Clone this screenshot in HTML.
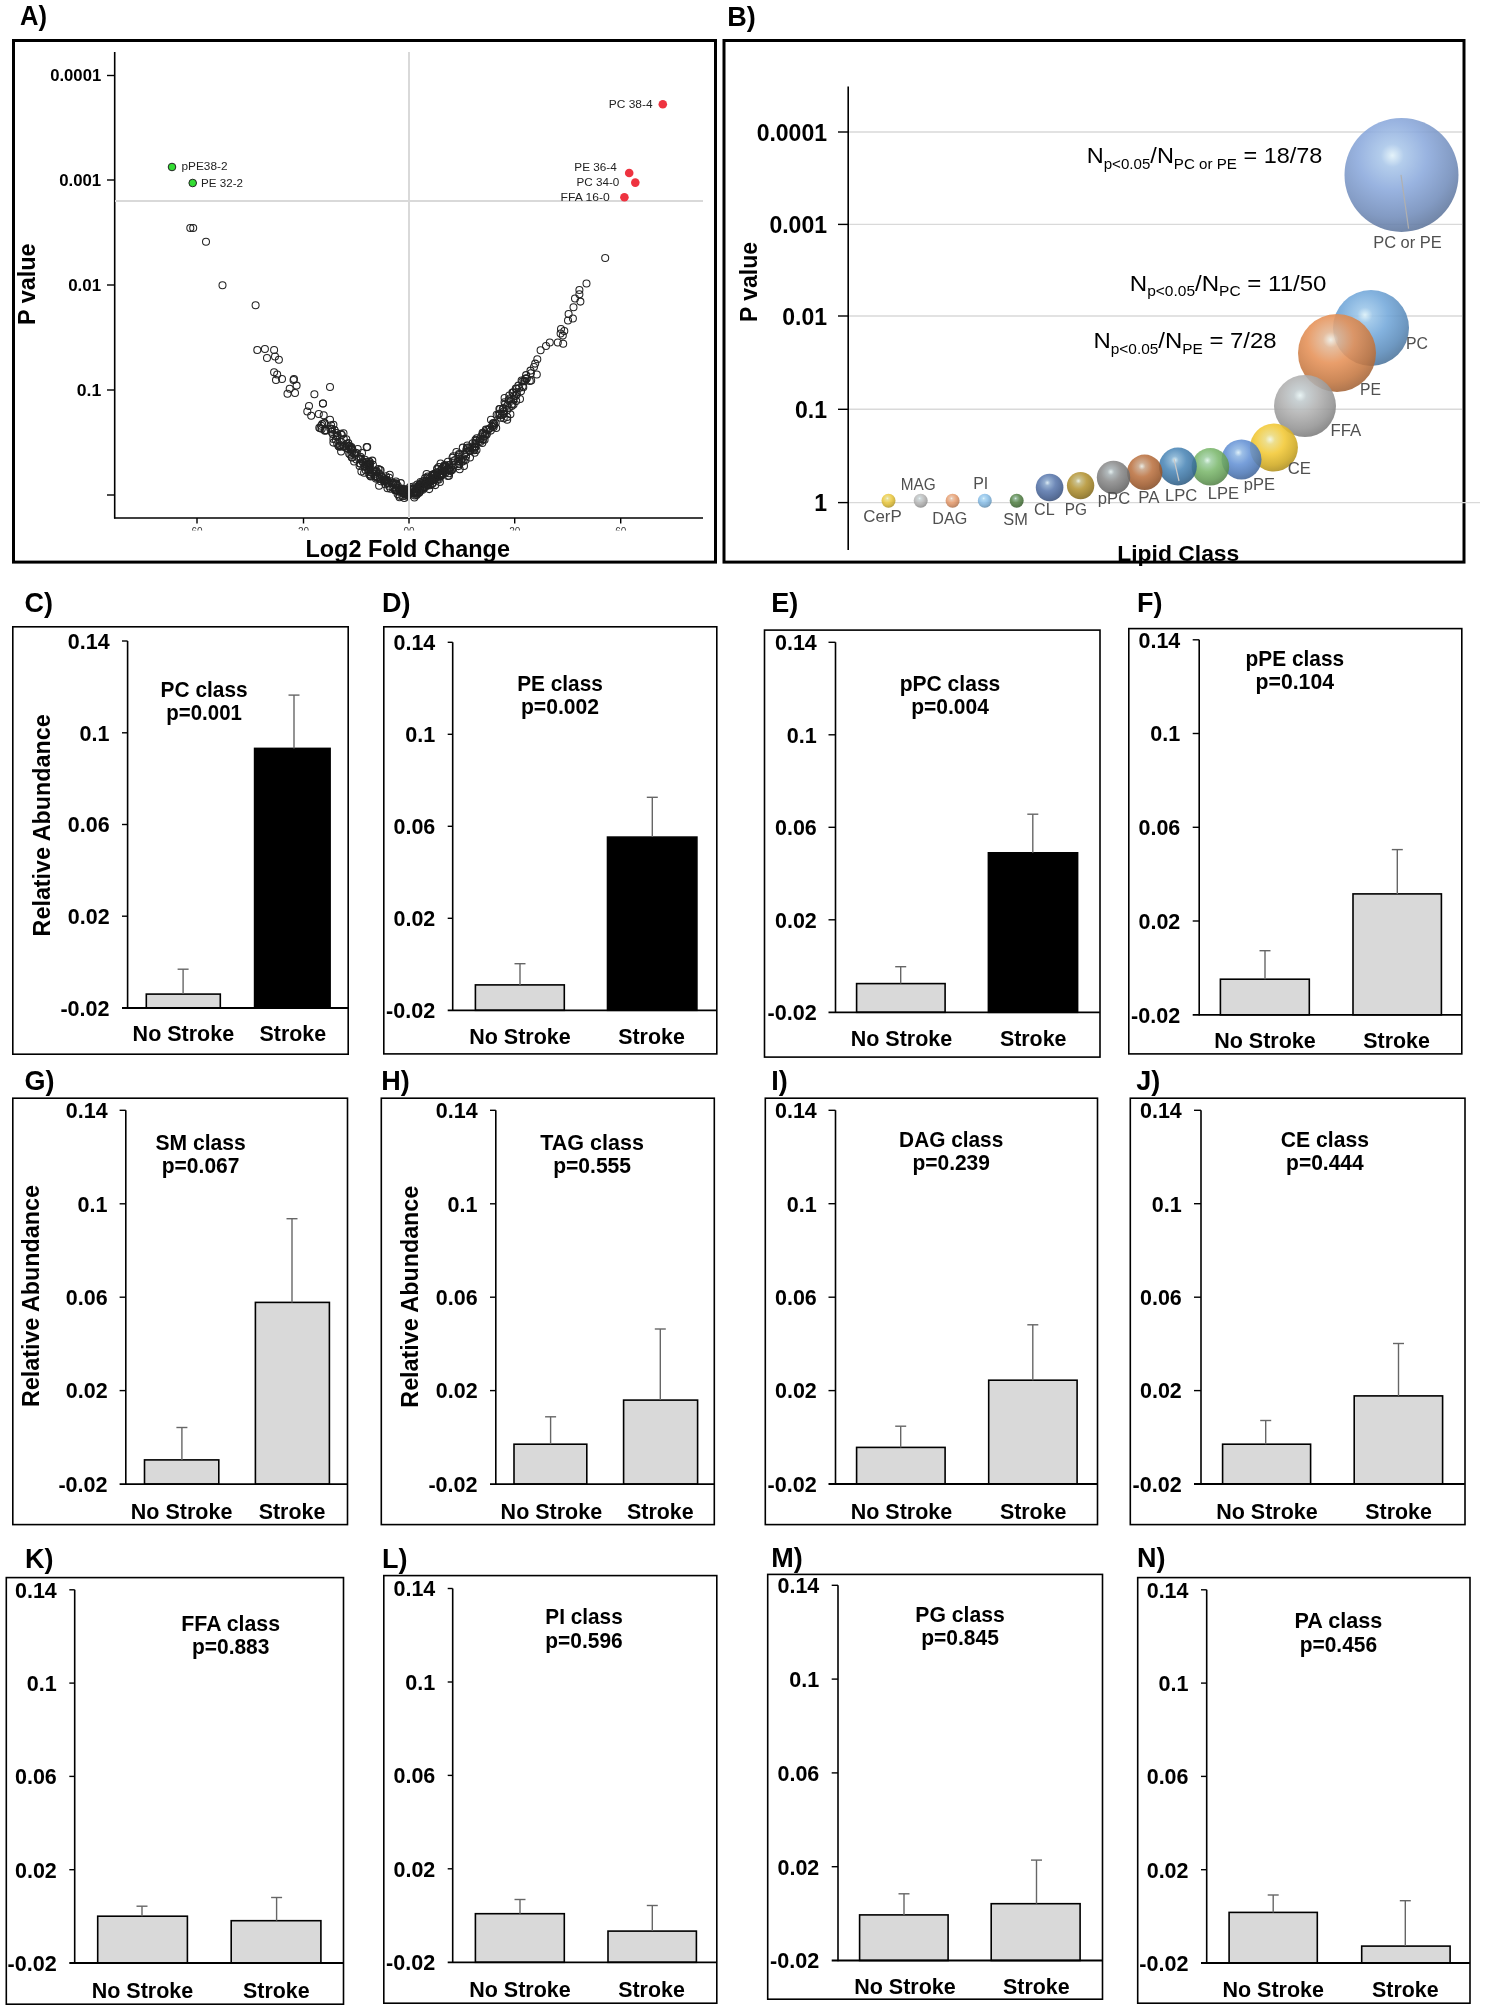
<!DOCTYPE html>
<html><head><meta charset="utf-8"><style>
html,body{margin:0;padding:0;background:#fff;overflow:hidden;}
svg{display:block;font-family:'Liberation Sans', sans-serif;will-change:transform;}
</style></head><body>
<svg width="1485" height="2010" viewBox="0 0 1485 2010">
<rect width="1485" height="2010" fill="#fff"/>
<text x="20.0" y="25.2" font-size="28" font-weight="bold" text-anchor="start" fill="#000" textLength="27" lengthAdjust="spacingAndGlyphs" >A)</text>
<rect x="13.5" y="40.5" width="702.0" height="521.6" fill="none" stroke="#000" stroke-width="3"/>
<line x1="114.7" y1="52.0" x2="114.7" y2="518.5" stroke="#000" stroke-width="1.6"/>
<line x1="114.0" y1="518.0" x2="703.0" y2="518.0" stroke="#000" stroke-width="1.6"/>
<line x1="107.0" y1="75.5" x2="115.0" y2="75.5" stroke="#000" stroke-width="1.4"/>
<text x="101.2" y="81.1" font-size="17.2" font-weight="bold" text-anchor="end" fill="#000" textLength="51" lengthAdjust="spacingAndGlyphs" >0.0001</text>
<line x1="107.0" y1="180.0" x2="115.0" y2="180.0" stroke="#000" stroke-width="1.4"/>
<text x="101.2" y="185.6" font-size="17.2" font-weight="bold" text-anchor="end" fill="#000" textLength="42" lengthAdjust="spacingAndGlyphs" >0.001</text>
<line x1="107.0" y1="285.0" x2="115.0" y2="285.0" stroke="#000" stroke-width="1.4"/>
<text x="101.2" y="290.6" font-size="17.2" font-weight="bold" text-anchor="end" fill="#000" textLength="33" lengthAdjust="spacingAndGlyphs" >0.01</text>
<line x1="107.0" y1="390.0" x2="115.0" y2="390.0" stroke="#000" stroke-width="1.4"/>
<text x="101.2" y="395.6" font-size="17.2" font-weight="bold" text-anchor="end" fill="#000" textLength="24.5" lengthAdjust="spacingAndGlyphs" >0.1</text>
<line x1="107.0" y1="495.0" x2="115.0" y2="495.0" stroke="#000" stroke-width="1.4"/>
<line x1="197.0" y1="518.0" x2="197.0" y2="523.5" stroke="#000" stroke-width="1.4"/>
<line x1="303.5" y1="518.0" x2="303.5" y2="523.5" stroke="#000" stroke-width="1.4"/>
<line x1="409.0" y1="518.0" x2="409.0" y2="523.5" stroke="#000" stroke-width="1.4"/>
<line x1="514.7" y1="518.0" x2="514.7" y2="523.5" stroke="#000" stroke-width="1.4"/>
<line x1="620.7" y1="518.0" x2="620.7" y2="523.5" stroke="#000" stroke-width="1.4"/>
<clipPath id="tkclip"><rect x="100" y="524" width="620" height="6.5"/></clipPath>
<g clip-path="url(#tkclip)">
<text x="197.0" y="535.0" font-size="10" font-weight="normal" text-anchor="middle" fill="#333" >60</text>
<text x="303.5" y="535.0" font-size="10" font-weight="normal" text-anchor="middle" fill="#333" >20</text>
<text x="409.0" y="535.0" font-size="10" font-weight="normal" text-anchor="middle" fill="#333" >00</text>
<text x="514.7" y="535.0" font-size="10" font-weight="normal" text-anchor="middle" fill="#333" >20</text>
<text x="620.7" y="535.0" font-size="10" font-weight="normal" text-anchor="middle" fill="#333" >60</text>
</g>
<text x="34.7" y="284.3" font-size="23.4" font-weight="bold" text-anchor="middle" fill="#000" textLength="81.5" lengthAdjust="spacingAndGlyphs" transform="rotate(-90 34.7 284.3)">P value</text>
<text x="407.7" y="556.5" font-size="23.5" font-weight="bold" text-anchor="middle" fill="#000" textLength="204.5" lengthAdjust="spacingAndGlyphs" >Log2 Fold Change</text>
<g fill="none" stroke="#222" stroke-width="1.05">
<circle cx="190.3" cy="227.9" r="3.5"/>
<circle cx="193.2" cy="227.9" r="3.5"/>
<circle cx="206.0" cy="241.7" r="3.5"/>
<circle cx="222.5" cy="285.3" r="3.5"/>
<circle cx="255.6" cy="305.2" r="3.5"/>
<circle cx="257.3" cy="350.0" r="3.5"/>
<circle cx="264.9" cy="349.0" r="3.5"/>
<circle cx="274.1" cy="350.0" r="3.5"/>
<circle cx="267.0" cy="358.0" r="3.5"/>
<circle cx="275.0" cy="356.5" r="3.5"/>
<circle cx="278.9" cy="359.7" r="3.5"/>
<circle cx="274.1" cy="372.2" r="3.5"/>
<circle cx="277.2" cy="374.4" r="3.5"/>
<circle cx="276.0" cy="380.0" r="3.5"/>
<circle cx="282.0" cy="379.0" r="3.5"/>
<circle cx="293.5" cy="380.0" r="3.5"/>
<circle cx="294.0" cy="379.0" r="3.5"/>
<circle cx="296.6" cy="385.6" r="3.5"/>
<circle cx="289.7" cy="388.8" r="3.5"/>
<circle cx="287.5" cy="393.8" r="3.5"/>
<circle cx="295.0" cy="393.0" r="3.5"/>
<circle cx="330.0" cy="387.0" r="3.5"/>
<circle cx="314.4" cy="394.2" r="3.5"/>
<circle cx="309.0" cy="406.0" r="3.5"/>
<circle cx="307.3" cy="411.5" r="3.5"/>
<circle cx="311.2" cy="415.8" r="3.5"/>
<circle cx="323.0" cy="403.5" r="3.5"/>
<circle cx="318.8" cy="414.0" r="3.5"/>
<circle cx="323.7" cy="415.3" r="3.5"/>
<circle cx="330.0" cy="419.7" r="3.5"/>
<circle cx="367.2" cy="447.0" r="3.5"/>
<circle cx="322.9" cy="403.4" r="3.5"/>
<circle cx="366.7" cy="447.1" r="3.5"/>
<circle cx="605.2" cy="258.0" r="3.5"/>
<circle cx="586.5" cy="283.4" r="3.5"/>
<circle cx="579.4" cy="290.0" r="3.5"/>
<circle cx="579.4" cy="294.2" r="3.5"/>
<circle cx="575.0" cy="298.5" r="3.5"/>
<circle cx="580.4" cy="301.6" r="3.5"/>
<circle cx="573.5" cy="307.2" r="3.5"/>
<circle cx="568.6" cy="314.0" r="3.5"/>
<circle cx="572.9" cy="318.4" r="3.5"/>
<circle cx="568.0" cy="320.5" r="3.5"/>
<circle cx="561.0" cy="329.0" r="3.5"/>
<circle cx="564.3" cy="331.0" r="3.5"/>
<circle cx="560.6" cy="333.4" r="3.5"/>
<circle cx="562.8" cy="335.6" r="3.5"/>
<circle cx="557.8" cy="342.5" r="3.5"/>
<circle cx="563.2" cy="343.8" r="3.5"/>
<circle cx="549.8" cy="342.5" r="3.5"/>
<circle cx="546.0" cy="346.0" r="3.5"/>
<circle cx="540.6" cy="350.3" r="3.5"/>
<circle cx="537.3" cy="359.3" r="3.5"/>
<circle cx="535.2" cy="363.6" r="3.5"/>
<circle cx="534.0" cy="366.9" r="3.5"/>
<circle cx="530.9" cy="373.3" r="3.5"/>
<circle cx="526.6" cy="378.7" r="3.5"/>
<circle cx="529.8" cy="380.9" r="3.5"/>
<circle cx="523.3" cy="387.3" r="3.5"/>
<circle cx="515.8" cy="388.4" r="3.5"/>
<circle cx="509.3" cy="395.5" r="3.5"/>
<circle cx="504.6" cy="398.0" r="3.5"/>
<circle cx="520.0" cy="399.0" r="3.5"/>
<circle cx="513.6" cy="404.6" r="3.5"/>
<circle cx="502.8" cy="408.9" r="3.5"/>
<circle cx="510.4" cy="414.3" r="3.5"/>
<circle cx="507.2" cy="419.7" r="3.5"/>
<circle cx="491.0" cy="419.7" r="3.5"/>
<circle cx="489.9" cy="428.3" r="3.5"/>
<circle cx="483.4" cy="439.0" r="3.5"/>
<circle cx="474.8" cy="447.7" r="3.5"/>
<circle cx="467.3" cy="445.5" r="3.5"/>
<circle cx="453.3" cy="456.3" r="3.5"/>
<circle cx="459.7" cy="469.2" r="3.5"/>
<circle cx="464.0" cy="466.0" r="3.5"/>
<circle cx="444.7" cy="465.0" r="3.5"/>
<circle cx="449.0" cy="475.7" r="3.5"/>
<circle cx="433.9" cy="475.7" r="3.5"/>
<circle cx="324.8" cy="430.8" r="3.5"/>
<circle cx="322.2" cy="424.1" r="3.5"/>
<circle cx="321.2" cy="425.7" r="3.5"/>
<circle cx="326.1" cy="430.5" r="3.5"/>
<circle cx="325.6" cy="430.0" r="3.5"/>
<circle cx="324.0" cy="423.3" r="3.5"/>
<circle cx="333.4" cy="424.8" r="3.5"/>
<circle cx="319.3" cy="427.8" r="3.5"/>
<circle cx="321.8" cy="428.8" r="3.5"/>
<circle cx="332.7" cy="434.0" r="3.5"/>
<circle cx="331.7" cy="428.8" r="3.5"/>
<circle cx="320.3" cy="428.2" r="3.5"/>
<circle cx="331.7" cy="429.4" r="3.5"/>
<circle cx="330.2" cy="428.5" r="3.5"/>
<circle cx="331.5" cy="431.7" r="3.5"/>
<circle cx="331.1" cy="425.3" r="3.5"/>
<circle cx="334.6" cy="430.1" r="3.5"/>
<circle cx="324.7" cy="423.1" r="3.5"/>
<circle cx="337.5" cy="435.2" r="3.5"/>
<circle cx="341.4" cy="442.3" r="3.5"/>
<circle cx="348.3" cy="443.1" r="3.5"/>
<circle cx="343.8" cy="438.9" r="3.5"/>
<circle cx="342.3" cy="446.5" r="3.5"/>
<circle cx="340.3" cy="445.2" r="3.5"/>
<circle cx="338.5" cy="446.0" r="3.5"/>
<circle cx="341.9" cy="434.9" r="3.5"/>
<circle cx="336.7" cy="432.9" r="3.5"/>
<circle cx="333.4" cy="439.0" r="3.5"/>
<circle cx="337.5" cy="435.6" r="3.5"/>
<circle cx="343.8" cy="446.6" r="3.5"/>
<circle cx="337.2" cy="443.7" r="3.5"/>
<circle cx="346.8" cy="444.0" r="3.5"/>
<circle cx="333.4" cy="442.6" r="3.5"/>
<circle cx="336.7" cy="436.5" r="3.5"/>
<circle cx="340.9" cy="433.8" r="3.5"/>
<circle cx="335.8" cy="439.5" r="3.5"/>
<circle cx="343.5" cy="433.3" r="3.5"/>
<circle cx="346.3" cy="439.2" r="3.5"/>
<circle cx="339.3" cy="446.7" r="3.5"/>
<circle cx="340.2" cy="446.2" r="3.5"/>
<circle cx="351.7" cy="448.6" r="3.5"/>
<circle cx="352.0" cy="452.5" r="3.5"/>
<circle cx="348.5" cy="449.0" r="3.5"/>
<circle cx="346.1" cy="447.9" r="3.5"/>
<circle cx="348.4" cy="446.6" r="3.5"/>
<circle cx="355.5" cy="452.8" r="3.5"/>
<circle cx="351.4" cy="447.0" r="3.5"/>
<circle cx="341.1" cy="451.5" r="3.5"/>
<circle cx="352.3" cy="449.2" r="3.5"/>
<circle cx="349.6" cy="445.9" r="3.5"/>
<circle cx="354.4" cy="453.7" r="3.5"/>
<circle cx="356.8" cy="453.2" r="3.5"/>
<circle cx="349.2" cy="453.8" r="3.5"/>
<circle cx="352.2" cy="457.2" r="3.5"/>
<circle cx="350.8" cy="447.4" r="3.5"/>
<circle cx="357.7" cy="448.9" r="3.5"/>
<circle cx="351.0" cy="449.7" r="3.5"/>
<circle cx="351.8" cy="457.5" r="3.5"/>
<circle cx="353.8" cy="453.3" r="3.5"/>
<circle cx="352.2" cy="450.3" r="3.5"/>
<circle cx="348.4" cy="445.9" r="3.5"/>
<circle cx="350.4" cy="454.8" r="3.5"/>
<circle cx="361.4" cy="471.5" r="3.5"/>
<circle cx="360.8" cy="459.3" r="3.5"/>
<circle cx="358.8" cy="458.2" r="3.5"/>
<circle cx="364.4" cy="466.4" r="3.5"/>
<circle cx="363.1" cy="462.5" r="3.5"/>
<circle cx="359.6" cy="466.0" r="3.5"/>
<circle cx="366.5" cy="461.7" r="3.5"/>
<circle cx="369.1" cy="461.4" r="3.5"/>
<circle cx="370.1" cy="463.7" r="3.5"/>
<circle cx="367.0" cy="465.2" r="3.5"/>
<circle cx="356.4" cy="459.6" r="3.5"/>
<circle cx="364.6" cy="466.7" r="3.5"/>
<circle cx="368.2" cy="464.5" r="3.5"/>
<circle cx="362.4" cy="461.3" r="3.5"/>
<circle cx="368.3" cy="463.9" r="3.5"/>
<circle cx="372.3" cy="460.6" r="3.5"/>
<circle cx="366.2" cy="464.6" r="3.5"/>
<circle cx="360.7" cy="458.4" r="3.5"/>
<circle cx="360.4" cy="456.7" r="3.5"/>
<circle cx="369.3" cy="463.3" r="3.5"/>
<circle cx="360.4" cy="463.6" r="3.5"/>
<circle cx="369.8" cy="462.0" r="3.5"/>
<circle cx="360.0" cy="463.4" r="3.5"/>
<circle cx="354.1" cy="461.5" r="3.5"/>
<circle cx="362.0" cy="452.9" r="3.5"/>
<circle cx="365.0" cy="459.7" r="3.5"/>
<circle cx="374.5" cy="471.8" r="3.5"/>
<circle cx="376.1" cy="471.6" r="3.5"/>
<circle cx="380.6" cy="470.3" r="3.5"/>
<circle cx="375.4" cy="476.1" r="3.5"/>
<circle cx="378.4" cy="468.9" r="3.5"/>
<circle cx="379.8" cy="469.7" r="3.5"/>
<circle cx="370.7" cy="474.7" r="3.5"/>
<circle cx="377.6" cy="476.7" r="3.5"/>
<circle cx="370.9" cy="476.4" r="3.5"/>
<circle cx="368.9" cy="469.5" r="3.5"/>
<circle cx="369.3" cy="466.8" r="3.5"/>
<circle cx="373.7" cy="473.9" r="3.5"/>
<circle cx="369.2" cy="466.7" r="3.5"/>
<circle cx="364.1" cy="472.7" r="3.5"/>
<circle cx="368.6" cy="470.8" r="3.5"/>
<circle cx="370.3" cy="476.0" r="3.5"/>
<circle cx="372.9" cy="464.7" r="3.5"/>
<circle cx="372.6" cy="470.2" r="3.5"/>
<circle cx="374.9" cy="476.6" r="3.5"/>
<circle cx="372.0" cy="472.8" r="3.5"/>
<circle cx="376.8" cy="471.3" r="3.5"/>
<circle cx="376.9" cy="477.6" r="3.5"/>
<circle cx="369.7" cy="467.0" r="3.5"/>
<circle cx="378.8" cy="473.6" r="3.5"/>
<circle cx="369.3" cy="474.5" r="3.5"/>
<circle cx="370.4" cy="472.2" r="3.5"/>
<circle cx="375.3" cy="471.3" r="3.5"/>
<circle cx="368.6" cy="465.5" r="3.5"/>
<circle cx="365.7" cy="470.3" r="3.5"/>
<circle cx="375.9" cy="478.6" r="3.5"/>
<circle cx="379.7" cy="478.6" r="3.5"/>
<circle cx="389.7" cy="474.7" r="3.5"/>
<circle cx="384.2" cy="481.3" r="3.5"/>
<circle cx="384.0" cy="480.0" r="3.5"/>
<circle cx="382.1" cy="477.2" r="3.5"/>
<circle cx="384.7" cy="479.8" r="3.5"/>
<circle cx="388.5" cy="483.0" r="3.5"/>
<circle cx="381.4" cy="476.2" r="3.5"/>
<circle cx="393.0" cy="483.3" r="3.5"/>
<circle cx="387.1" cy="482.8" r="3.5"/>
<circle cx="395.9" cy="483.2" r="3.5"/>
<circle cx="396.1" cy="483.7" r="3.5"/>
<circle cx="389.4" cy="486.5" r="3.5"/>
<circle cx="392.9" cy="485.0" r="3.5"/>
<circle cx="387.7" cy="480.4" r="3.5"/>
<circle cx="380.7" cy="481.3" r="3.5"/>
<circle cx="384.8" cy="479.6" r="3.5"/>
<circle cx="390.5" cy="488.7" r="3.5"/>
<circle cx="386.0" cy="479.5" r="3.5"/>
<circle cx="387.6" cy="483.0" r="3.5"/>
<circle cx="379.1" cy="485.7" r="3.5"/>
<circle cx="391.6" cy="482.8" r="3.5"/>
<circle cx="385.7" cy="479.6" r="3.5"/>
<circle cx="389.2" cy="477.7" r="3.5"/>
<circle cx="384.2" cy="478.2" r="3.5"/>
<circle cx="383.8" cy="481.3" r="3.5"/>
<circle cx="380.1" cy="478.6" r="3.5"/>
<circle cx="386.0" cy="476.2" r="3.5"/>
<circle cx="392.7" cy="482.8" r="3.5"/>
<circle cx="396.1" cy="484.8" r="3.5"/>
<circle cx="395.2" cy="490.2" r="3.5"/>
<circle cx="387.5" cy="488.3" r="3.5"/>
<circle cx="395.5" cy="483.9" r="3.5"/>
<circle cx="392.6" cy="487.7" r="3.5"/>
<circle cx="385.2" cy="484.3" r="3.5"/>
<circle cx="396.0" cy="481.4" r="3.5"/>
<circle cx="403.9" cy="492.2" r="3.5"/>
<circle cx="396.2" cy="489.8" r="3.5"/>
<circle cx="395.2" cy="490.3" r="3.5"/>
<circle cx="404.0" cy="489.8" r="3.5"/>
<circle cx="399.4" cy="495.7" r="3.5"/>
<circle cx="406.7" cy="490.2" r="3.5"/>
<circle cx="402.5" cy="496.2" r="3.5"/>
<circle cx="398.4" cy="491.5" r="3.5"/>
<circle cx="405.7" cy="494.2" r="3.5"/>
<circle cx="409.1" cy="492.5" r="3.5"/>
<circle cx="401.2" cy="489.7" r="3.5"/>
<circle cx="403.4" cy="491.7" r="3.5"/>
<circle cx="399.5" cy="488.9" r="3.5"/>
<circle cx="399.8" cy="489.8" r="3.5"/>
<circle cx="398.5" cy="488.0" r="3.5"/>
<circle cx="404.1" cy="491.9" r="3.5"/>
<circle cx="404.0" cy="489.0" r="3.5"/>
<circle cx="396.3" cy="490.1" r="3.5"/>
<circle cx="407.4" cy="495.3" r="3.5"/>
<circle cx="397.6" cy="493.9" r="3.5"/>
<circle cx="402.2" cy="491.0" r="3.5"/>
<circle cx="408.2" cy="495.4" r="3.5"/>
<circle cx="400.8" cy="483.1" r="3.5"/>
<circle cx="395.8" cy="490.2" r="3.5"/>
<circle cx="406.2" cy="493.7" r="3.5"/>
<circle cx="407.1" cy="493.7" r="3.5"/>
<circle cx="397.6" cy="485.4" r="3.5"/>
<circle cx="399.5" cy="491.5" r="3.5"/>
<circle cx="399.7" cy="490.3" r="3.5"/>
<circle cx="404.2" cy="493.9" r="3.5"/>
<circle cx="405.7" cy="493.3" r="3.5"/>
<circle cx="401.2" cy="488.4" r="3.5"/>
<circle cx="408.6" cy="493.1" r="3.5"/>
<circle cx="401.5" cy="490.9" r="3.5"/>
<circle cx="395.9" cy="489.7" r="3.5"/>
<circle cx="408.0" cy="494.6" r="3.5"/>
<circle cx="402.5" cy="492.4" r="3.5"/>
<circle cx="404.3" cy="498.0" r="3.5"/>
<circle cx="399.5" cy="497.3" r="3.5"/>
<circle cx="402.4" cy="491.7" r="3.5"/>
<circle cx="407.5" cy="489.3" r="3.5"/>
<circle cx="404.1" cy="492.3" r="3.5"/>
<circle cx="406.8" cy="496.4" r="3.5"/>
<circle cx="402.4" cy="489.2" r="3.5"/>
<circle cx="425.0" cy="484.0" r="3.5"/>
<circle cx="412.8" cy="488.8" r="3.5"/>
<circle cx="414.4" cy="493.2" r="3.5"/>
<circle cx="421.5" cy="483.3" r="3.5"/>
<circle cx="424.8" cy="487.5" r="3.5"/>
<circle cx="413.5" cy="493.0" r="3.5"/>
<circle cx="417.0" cy="492.1" r="3.5"/>
<circle cx="410.0" cy="486.9" r="3.5"/>
<circle cx="419.7" cy="484.4" r="3.5"/>
<circle cx="417.3" cy="487.2" r="3.5"/>
<circle cx="413.6" cy="492.3" r="3.5"/>
<circle cx="410.0" cy="489.4" r="3.5"/>
<circle cx="423.3" cy="485.8" r="3.5"/>
<circle cx="413.3" cy="489.4" r="3.5"/>
<circle cx="423.9" cy="487.3" r="3.5"/>
<circle cx="414.4" cy="497.4" r="3.5"/>
<circle cx="420.5" cy="481.9" r="3.5"/>
<circle cx="409.2" cy="489.8" r="3.5"/>
<circle cx="422.6" cy="489.7" r="3.5"/>
<circle cx="415.4" cy="492.6" r="3.5"/>
<circle cx="413.8" cy="486.4" r="3.5"/>
<circle cx="417.2" cy="484.4" r="3.5"/>
<circle cx="416.4" cy="488.8" r="3.5"/>
<circle cx="423.9" cy="486.8" r="3.5"/>
<circle cx="419.6" cy="487.1" r="3.5"/>
<circle cx="411.2" cy="489.1" r="3.5"/>
<circle cx="415.0" cy="495.5" r="3.5"/>
<circle cx="418.0" cy="486.9" r="3.5"/>
<circle cx="420.4" cy="490.0" r="3.5"/>
<circle cx="419.2" cy="492.7" r="3.5"/>
<circle cx="421.3" cy="483.4" r="3.5"/>
<circle cx="416.6" cy="495.1" r="3.5"/>
<circle cx="417.3" cy="493.7" r="3.5"/>
<circle cx="418.9" cy="485.6" r="3.5"/>
<circle cx="420.5" cy="488.8" r="3.5"/>
<circle cx="411.3" cy="492.4" r="3.5"/>
<circle cx="422.6" cy="488.5" r="3.5"/>
<circle cx="419.3" cy="485.0" r="3.5"/>
<circle cx="424.0" cy="482.6" r="3.5"/>
<circle cx="416.2" cy="492.4" r="3.5"/>
<circle cx="416.5" cy="493.7" r="3.5"/>
<circle cx="414.8" cy="492.5" r="3.5"/>
<circle cx="420.4" cy="488.6" r="3.5"/>
<circle cx="419.9" cy="491.5" r="3.5"/>
<circle cx="413.6" cy="493.4" r="3.5"/>
<circle cx="432.1" cy="484.1" r="3.5"/>
<circle cx="439.9" cy="482.0" r="3.5"/>
<circle cx="433.1" cy="482.8" r="3.5"/>
<circle cx="438.9" cy="479.6" r="3.5"/>
<circle cx="429.6" cy="478.2" r="3.5"/>
<circle cx="428.2" cy="484.3" r="3.5"/>
<circle cx="430.4" cy="481.4" r="3.5"/>
<circle cx="440.8" cy="474.0" r="3.5"/>
<circle cx="437.0" cy="476.2" r="3.5"/>
<circle cx="423.2" cy="480.9" r="3.5"/>
<circle cx="440.2" cy="474.8" r="3.5"/>
<circle cx="440.4" cy="476.8" r="3.5"/>
<circle cx="436.8" cy="475.1" r="3.5"/>
<circle cx="429.2" cy="489.1" r="3.5"/>
<circle cx="425.9" cy="481.1" r="3.5"/>
<circle cx="431.3" cy="479.3" r="3.5"/>
<circle cx="435.2" cy="476.9" r="3.5"/>
<circle cx="429.1" cy="480.5" r="3.5"/>
<circle cx="437.6" cy="478.9" r="3.5"/>
<circle cx="440.5" cy="475.5" r="3.5"/>
<circle cx="435.3" cy="485.1" r="3.5"/>
<circle cx="431.2" cy="479.7" r="3.5"/>
<circle cx="432.7" cy="480.1" r="3.5"/>
<circle cx="434.7" cy="474.8" r="3.5"/>
<circle cx="434.5" cy="473.7" r="3.5"/>
<circle cx="428.4" cy="477.5" r="3.5"/>
<circle cx="427.8" cy="484.6" r="3.5"/>
<circle cx="428.5" cy="481.9" r="3.5"/>
<circle cx="433.0" cy="474.5" r="3.5"/>
<circle cx="439.5" cy="476.3" r="3.5"/>
<circle cx="427.8" cy="485.6" r="3.5"/>
<circle cx="434.3" cy="474.4" r="3.5"/>
<circle cx="427.7" cy="476.5" r="3.5"/>
<circle cx="436.3" cy="478.0" r="3.5"/>
<circle cx="426.1" cy="483.9" r="3.5"/>
<circle cx="432.2" cy="474.8" r="3.5"/>
<circle cx="428.0" cy="481.8" r="3.5"/>
<circle cx="427.4" cy="484.9" r="3.5"/>
<circle cx="426.6" cy="473.9" r="3.5"/>
<circle cx="434.3" cy="479.0" r="3.5"/>
<circle cx="435.3" cy="478.0" r="3.5"/>
<circle cx="431.3" cy="480.9" r="3.5"/>
<circle cx="440.3" cy="476.1" r="3.5"/>
<circle cx="430.2" cy="485.3" r="3.5"/>
<circle cx="434.5" cy="479.9" r="3.5"/>
<circle cx="436.8" cy="472.5" r="3.5"/>
<circle cx="437.1" cy="476.6" r="3.5"/>
<circle cx="432.1" cy="476.1" r="3.5"/>
<circle cx="431.2" cy="481.1" r="3.5"/>
<circle cx="425.1" cy="478.1" r="3.5"/>
<circle cx="445.4" cy="472.7" r="3.5"/>
<circle cx="453.6" cy="465.1" r="3.5"/>
<circle cx="443.1" cy="471.3" r="3.5"/>
<circle cx="443.2" cy="474.3" r="3.5"/>
<circle cx="449.0" cy="465.1" r="3.5"/>
<circle cx="441.3" cy="470.0" r="3.5"/>
<circle cx="445.8" cy="467.0" r="3.5"/>
<circle cx="443.6" cy="466.7" r="3.5"/>
<circle cx="449.1" cy="473.3" r="3.5"/>
<circle cx="449.1" cy="469.6" r="3.5"/>
<circle cx="447.8" cy="475.9" r="3.5"/>
<circle cx="447.5" cy="468.6" r="3.5"/>
<circle cx="455.0" cy="460.0" r="3.5"/>
<circle cx="437.3" cy="469.3" r="3.5"/>
<circle cx="459.3" cy="464.2" r="3.5"/>
<circle cx="445.6" cy="466.7" r="3.5"/>
<circle cx="440.6" cy="463.5" r="3.5"/>
<circle cx="438.7" cy="466.9" r="3.5"/>
<circle cx="458.2" cy="460.9" r="3.5"/>
<circle cx="458.9" cy="463.7" r="3.5"/>
<circle cx="442.2" cy="474.6" r="3.5"/>
<circle cx="452.5" cy="457.7" r="3.5"/>
<circle cx="442.5" cy="471.3" r="3.5"/>
<circle cx="447.7" cy="470.5" r="3.5"/>
<circle cx="444.7" cy="471.1" r="3.5"/>
<circle cx="448.9" cy="465.3" r="3.5"/>
<circle cx="441.7" cy="468.9" r="3.5"/>
<circle cx="437.2" cy="468.4" r="3.5"/>
<circle cx="440.8" cy="473.2" r="3.5"/>
<circle cx="447.9" cy="461.7" r="3.5"/>
<circle cx="444.0" cy="466.0" r="3.5"/>
<circle cx="445.6" cy="465.9" r="3.5"/>
<circle cx="450.7" cy="470.9" r="3.5"/>
<circle cx="450.8" cy="467.0" r="3.5"/>
<circle cx="453.1" cy="461.3" r="3.5"/>
<circle cx="449.6" cy="467.9" r="3.5"/>
<circle cx="450.0" cy="469.8" r="3.5"/>
<circle cx="452.1" cy="469.9" r="3.5"/>
<circle cx="439.4" cy="471.5" r="3.5"/>
<circle cx="451.7" cy="469.2" r="3.5"/>
<circle cx="447.6" cy="469.4" r="3.5"/>
<circle cx="458.4" cy="466.1" r="3.5"/>
<circle cx="476.5" cy="450.0" r="3.5"/>
<circle cx="470.0" cy="457.4" r="3.5"/>
<circle cx="459.7" cy="458.8" r="3.5"/>
<circle cx="458.5" cy="456.8" r="3.5"/>
<circle cx="461.5" cy="459.1" r="3.5"/>
<circle cx="474.2" cy="449.4" r="3.5"/>
<circle cx="474.8" cy="446.7" r="3.5"/>
<circle cx="466.6" cy="452.2" r="3.5"/>
<circle cx="465.6" cy="460.1" r="3.5"/>
<circle cx="470.1" cy="450.9" r="3.5"/>
<circle cx="474.0" cy="450.3" r="3.5"/>
<circle cx="467.8" cy="447.5" r="3.5"/>
<circle cx="462.8" cy="447.6" r="3.5"/>
<circle cx="462.5" cy="461.6" r="3.5"/>
<circle cx="464.4" cy="454.6" r="3.5"/>
<circle cx="472.7" cy="443.3" r="3.5"/>
<circle cx="470.1" cy="447.2" r="3.5"/>
<circle cx="474.7" cy="452.8" r="3.5"/>
<circle cx="456.4" cy="452.0" r="3.5"/>
<circle cx="466.3" cy="450.2" r="3.5"/>
<circle cx="459.3" cy="461.2" r="3.5"/>
<circle cx="466.8" cy="448.3" r="3.5"/>
<circle cx="474.7" cy="447.7" r="3.5"/>
<circle cx="469.3" cy="450.4" r="3.5"/>
<circle cx="466.1" cy="456.3" r="3.5"/>
<circle cx="458.9" cy="454.0" r="3.5"/>
<circle cx="459.1" cy="455.1" r="3.5"/>
<circle cx="461.4" cy="459.5" r="3.5"/>
<circle cx="463.7" cy="460.4" r="3.5"/>
<circle cx="472.2" cy="447.4" r="3.5"/>
<circle cx="482.3" cy="442.9" r="3.5"/>
<circle cx="483.4" cy="433.3" r="3.5"/>
<circle cx="484.6" cy="439.8" r="3.5"/>
<circle cx="479.3" cy="441.0" r="3.5"/>
<circle cx="482.6" cy="434.3" r="3.5"/>
<circle cx="475.8" cy="444.0" r="3.5"/>
<circle cx="484.7" cy="436.0" r="3.5"/>
<circle cx="475.5" cy="439.7" r="3.5"/>
<circle cx="485.2" cy="433.9" r="3.5"/>
<circle cx="480.0" cy="439.2" r="3.5"/>
<circle cx="488.4" cy="429.6" r="3.5"/>
<circle cx="475.7" cy="446.6" r="3.5"/>
<circle cx="481.2" cy="436.5" r="3.5"/>
<circle cx="480.3" cy="442.0" r="3.5"/>
<circle cx="475.3" cy="442.7" r="3.5"/>
<circle cx="486.7" cy="434.1" r="3.5"/>
<circle cx="476.8" cy="438.3" r="3.5"/>
<circle cx="485.9" cy="429.4" r="3.5"/>
<circle cx="486.5" cy="434.7" r="3.5"/>
<circle cx="490.8" cy="430.6" r="3.5"/>
<circle cx="476.2" cy="440.6" r="3.5"/>
<circle cx="486.8" cy="429.8" r="3.5"/>
<circle cx="482.7" cy="439.4" r="3.5"/>
<circle cx="482.6" cy="432.7" r="3.5"/>
<circle cx="500.1" cy="408.9" r="3.5"/>
<circle cx="500.7" cy="417.8" r="3.5"/>
<circle cx="498.4" cy="414.7" r="3.5"/>
<circle cx="492.9" cy="423.3" r="3.5"/>
<circle cx="503.3" cy="413.6" r="3.5"/>
<circle cx="493.7" cy="426.9" r="3.5"/>
<circle cx="493.5" cy="425.4" r="3.5"/>
<circle cx="496.7" cy="414.7" r="3.5"/>
<circle cx="503.7" cy="418.2" r="3.5"/>
<circle cx="495.7" cy="422.9" r="3.5"/>
<circle cx="507.3" cy="417.0" r="3.5"/>
<circle cx="503.7" cy="414.1" r="3.5"/>
<circle cx="494.3" cy="424.3" r="3.5"/>
<circle cx="501.8" cy="415.3" r="3.5"/>
<circle cx="499.9" cy="413.6" r="3.5"/>
<circle cx="496.2" cy="428.0" r="3.5"/>
<circle cx="493.7" cy="423.1" r="3.5"/>
<circle cx="492.0" cy="426.6" r="3.5"/>
<circle cx="499.7" cy="415.2" r="3.5"/>
<circle cx="499.4" cy="409.0" r="3.5"/>
<circle cx="512.0" cy="404.1" r="3.5"/>
<circle cx="507.3" cy="405.6" r="3.5"/>
<circle cx="508.7" cy="400.5" r="3.5"/>
<circle cx="516.2" cy="401.1" r="3.5"/>
<circle cx="507.0" cy="410.3" r="3.5"/>
<circle cx="511.1" cy="400.7" r="3.5"/>
<circle cx="504.5" cy="402.3" r="3.5"/>
<circle cx="503.6" cy="408.0" r="3.5"/>
<circle cx="513.5" cy="399.3" r="3.5"/>
<circle cx="508.8" cy="408.2" r="3.5"/>
<circle cx="511.8" cy="406.0" r="3.5"/>
<circle cx="504.0" cy="411.3" r="3.5"/>
<circle cx="509.0" cy="399.3" r="3.5"/>
<circle cx="505.2" cy="403.8" r="3.5"/>
<circle cx="514.0" cy="396.2" r="3.5"/>
<circle cx="516.9" cy="394.3" r="3.5"/>
<circle cx="516.7" cy="388.7" r="3.5"/>
<circle cx="513.4" cy="392.4" r="3.5"/>
<circle cx="519.2" cy="388.0" r="3.5"/>
<circle cx="516.5" cy="392.4" r="3.5"/>
<circle cx="518.4" cy="385.6" r="3.5"/>
<circle cx="512.4" cy="392.5" r="3.5"/>
<circle cx="521.0" cy="391.3" r="3.5"/>
<circle cx="522.6" cy="386.5" r="3.5"/>
<circle cx="513.1" cy="392.5" r="3.5"/>
<circle cx="515.9" cy="395.8" r="3.5"/>
<circle cx="525.3" cy="378.4" r="3.5"/>
<circle cx="531.2" cy="380.4" r="3.5"/>
<circle cx="536.8" cy="374.5" r="3.5"/>
<circle cx="521.6" cy="380.5" r="3.5"/>
<circle cx="530.5" cy="370.6" r="3.5"/>
<circle cx="524.2" cy="381.1" r="3.5"/>
<circle cx="525.0" cy="381.0" r="3.5"/>
<circle cx="526.7" cy="378.3" r="3.5"/>
<circle cx="526.1" cy="375.1" r="3.5"/>
<circle cx="522.3" cy="381.4" r="3.5"/>
</g>
<line x1="115.0" y1="201.0" x2="703.0" y2="201.0" stroke="#d9d9d9" stroke-width="2"/>
<line x1="409.0" y1="52.0" x2="409.0" y2="518.0" stroke="#d9d9d9" stroke-width="2"/>
<circle cx="172" cy="167" r="3.8" fill="#33dd33" stroke="#222" stroke-width="1"/>
<circle cx="192.7" cy="183" r="3.8" fill="#33dd33" stroke="#222" stroke-width="1"/>
<circle cx="662.8" cy="104.2" r="4.3" fill="#ee3340"/>
<circle cx="629.2" cy="173" r="4.3" fill="#ee3340"/>
<circle cx="635.3" cy="182.6" r="4.3" fill="#ee3340"/>
<circle cx="624.4" cy="197.2" r="4.3" fill="#ee3340"/>
<text x="181.5" y="170.0" font-size="11.5" font-weight="normal" text-anchor="start" fill="#222" textLength="46" lengthAdjust="spacingAndGlyphs" >pPE38-2</text>
<text x="201.0" y="186.5" font-size="11.5" font-weight="normal" text-anchor="start" fill="#222" textLength="42" lengthAdjust="spacingAndGlyphs" >PE 32-2</text>
<text x="608.8" y="108.0" font-size="11.5" font-weight="normal" text-anchor="start" fill="#222" textLength="43.8" lengthAdjust="spacingAndGlyphs" >PC 38-4</text>
<text x="574.3" y="171.3" font-size="11.5" font-weight="normal" text-anchor="start" fill="#222" textLength="42.5" lengthAdjust="spacingAndGlyphs" >PE 36-4</text>
<text x="576.5" y="185.7" font-size="11.5" font-weight="normal" text-anchor="start" fill="#222" textLength="42.8" lengthAdjust="spacingAndGlyphs" >PC 34-0</text>
<text x="560.5" y="201.3" font-size="11.5" font-weight="normal" text-anchor="start" fill="#222" textLength="49.2" lengthAdjust="spacingAndGlyphs" >FFA 16-0</text>
<text x="727.3" y="26.2" font-size="28" font-weight="bold" text-anchor="start" fill="#000" textLength="28.5" lengthAdjust="spacingAndGlyphs" >B)</text>
<rect x="724.0" y="40.5" width="740.0" height="521.6" fill="none" stroke="#000" stroke-width="3"/>
<line x1="848.0" y1="132.0" x2="1462.0" y2="132.0" stroke="#d9d9d9" stroke-width="1.4"/>
<line x1="848.0" y1="224.4" x2="1462.0" y2="224.4" stroke="#d9d9d9" stroke-width="1.4"/>
<line x1="848.0" y1="316.0" x2="1462.0" y2="316.0" stroke="#d9d9d9" stroke-width="1.4"/>
<line x1="848.0" y1="409.3" x2="1462.0" y2="409.3" stroke="#d9d9d9" stroke-width="1.4"/>
<line x1="848.0" y1="502.6" x2="1480.0" y2="502.6" stroke="#d9d9d9" stroke-width="1.4"/>
<line x1="848.2" y1="86.5" x2="848.2" y2="550.0" stroke="#000" stroke-width="1.6"/>
<line x1="838.0" y1="132.0" x2="848.0" y2="132.0" stroke="#000" stroke-width="1.4"/>
<text x="827.0" y="140.5" font-size="23" font-weight="bold" text-anchor="end" fill="#000" >0.0001</text>
<line x1="838.0" y1="224.4" x2="848.0" y2="224.4" stroke="#000" stroke-width="1.4"/>
<text x="827.0" y="232.9" font-size="23" font-weight="bold" text-anchor="end" fill="#000" >0.001</text>
<line x1="838.0" y1="316.0" x2="848.0" y2="316.0" stroke="#000" stroke-width="1.4"/>
<text x="827.0" y="324.5" font-size="23" font-weight="bold" text-anchor="end" fill="#000" >0.01</text>
<line x1="838.0" y1="409.3" x2="848.0" y2="409.3" stroke="#000" stroke-width="1.4"/>
<text x="827.0" y="417.8" font-size="23" font-weight="bold" text-anchor="end" fill="#000" >0.1</text>
<line x1="838.0" y1="502.6" x2="848.0" y2="502.6" stroke="#000" stroke-width="1.4"/>
<text x="827.0" y="511.1" font-size="23" font-weight="bold" text-anchor="end" fill="#000" >1</text>
<text x="757.0" y="282.0" font-size="23.4" font-weight="bold" text-anchor="middle" fill="#000" textLength="80" lengthAdjust="spacingAndGlyphs" transform="rotate(-90 757 282)">P value</text>
<text x="1178.3" y="561.0" font-size="22.6" font-weight="bold" text-anchor="middle" fill="#000" textLength="122" lengthAdjust="spacingAndGlyphs" >Lipid Class</text>
<defs>
<radialGradient id="bg0" cx="0.42" cy="0.33" r="0.72" fx="0.42" fy="0.33"><stop offset="0" stop-color="#e0f1f9"/><stop offset="0.14" stop-color="#a9c6e9"/><stop offset="0.42" stop-color="#8ba9dc"/><stop offset="0.75" stop-color="#728dbb"/><stop offset="1" stop-color="#5a7094"/></radialGradient>
<radialGradient id="bg1" cx="0.42" cy="0.33" r="0.72" fx="0.42" fy="0.33"><stop offset="0" stop-color="#dcf1f9"/><stop offset="0.14" stop-color="#99c4e8"/><stop offset="0.42" stop-color="#73a8da"/><stop offset="0.75" stop-color="#5b8bba"/><stop offset="1" stop-color="#486e93"/></radialGradient>
<radialGradient id="bg2" cx="0.42" cy="0.33" r="0.72" fx="0.42" fy="0.33"><stop offset="0" stop-color="#eeede4"/><stop offset="0.14" stop-color="#e2b694"/><stop offset="0.42" stop-color="#e69157"/><stop offset="0.75" stop-color="#c47741"/><stop offset="1" stop-color="#9b5e34"/></radialGradient>
<radialGradient id="bg3" cx="0.42" cy="0.33" r="0.72" fx="0.42" fy="0.33"><stop offset="0" stop-color="#e6f3f3"/><stop offset="0.14" stop-color="#c1cacd"/><stop offset="0.42" stop-color="#b1b1b1"/><stop offset="0.75" stop-color="#949494"/><stop offset="1" stop-color="#757575"/></radialGradient>
<radialGradient id="bg4" cx="0.42" cy="0.33" r="0.72" fx="0.42" fy="0.33"><stop offset="0" stop-color="#f0f6df"/><stop offset="0.14" stop-color="#ebda7e"/><stop offset="0.42" stop-color="#f3c935"/><stop offset="0.75" stop-color="#d0aa22"/><stop offset="1" stop-color="#a5871b"/></radialGradient>
<radialGradient id="bg5" cx="0.42" cy="0.33" r="0.72" fx="0.42" fy="0.33"><stop offset="0" stop-color="#daeef8"/><stop offset="0.14" stop-color="#90b7e4"/><stop offset="0.42" stop-color="#6592d5"/><stop offset="0.75" stop-color="#4e78b5"/><stop offset="1" stop-color="#3e5f8f"/></radialGradient>
<radialGradient id="bg6" cx="0.42" cy="0.33" r="0.72" fx="0.42" fy="0.33"><stop offset="0" stop-color="#ddf4e8"/><stop offset="0.14" stop-color="#9fcfa2"/><stop offset="0.42" stop-color="#7cb86d"/><stop offset="0.75" stop-color="#649b56"/><stop offset="1" stop-color="#4f7a44"/></radialGradient>
<radialGradient id="bg7" cx="0.42" cy="0.33" r="0.72" fx="0.42" fy="0.33"><stop offset="0" stop-color="#d6ecf3"/><stop offset="0.14" stop-color="#81afd1"/><stop offset="0.42" stop-color="#4c87b7"/><stop offset="0.75" stop-color="#386d99"/><stop offset="1" stop-color="#2c5679"/></radialGradient>
<radialGradient id="bg8" cx="0.42" cy="0.33" r="0.72" fx="0.42" fy="0.33"><stop offset="0" stop-color="#e8e9e1"/><stop offset="0.14" stop-color="#c8a386"/><stop offset="0.42" stop-color="#bc7342"/><stop offset="0.75" stop-color="#9e5b2e"/><stop offset="1" stop-color="#7d4825"/></radialGradient>
<radialGradient id="bg9" cx="0.42" cy="0.33" r="0.72" fx="0.42" fy="0.33"><stop offset="0" stop-color="#e0ecec"/><stop offset="0.14" stop-color="#a8b1b4"/><stop offset="0.42" stop-color="#8a8a8a"/><stop offset="0.75" stop-color="#707070"/><stop offset="1" stop-color="#585858"/></radialGradient>
<radialGradient id="bg10" cx="0.42" cy="0.33" r="0.72" fx="0.42" fy="0.33"><stop offset="0" stop-color="#e6eedf"/><stop offset="0.14" stop-color="#c3b87e"/><stop offset="0.42" stop-color="#b59535"/><stop offset="0.75" stop-color="#977a22"/><stop offset="1" stop-color="#78611b"/></radialGradient>
<radialGradient id="bg11" cx="0.42" cy="0.33" r="0.72" fx="0.42" fy="0.33"><stop offset="0" stop-color="#d8e9f2"/><stop offset="0.14" stop-color="#89a6cb"/><stop offset="0.42" stop-color="#5a78ad"/><stop offset="0.75" stop-color="#445f90"/><stop offset="1" stop-color="#364b72"/></radialGradient>
<radialGradient id="bg12" cx="0.42" cy="0.33" r="0.72" fx="0.42" fy="0.33"><stop offset="0" stop-color="#d8ece2"/><stop offset="0.14" stop-color="#88af8c"/><stop offset="0.42" stop-color="#59864b"/><stop offset="0.75" stop-color="#436c37"/><stop offset="1" stop-color="#35562c"/></radialGradient>
<radialGradient id="bg13" cx="0.42" cy="0.33" r="0.72" fx="0.42" fy="0.33"><stop offset="0" stop-color="#e0f5fc"/><stop offset="0.14" stop-color="#aad5f1"/><stop offset="0.42" stop-color="#8dc1e9"/><stop offset="0.75" stop-color="#73a3c8"/><stop offset="1" stop-color="#5b819e"/></radialGradient>
<radialGradient id="bg14" cx="0.42" cy="0.33" r="0.72" fx="0.42" fy="0.33"><stop offset="0" stop-color="#eff0e9"/><stop offset="0.14" stop-color="#e5c0a6"/><stop offset="0.42" stop-color="#e9a073"/><stop offset="0.75" stop-color="#c8845b"/><stop offset="1" stop-color="#9e6948"/></radialGradient>
<radialGradient id="bg15" cx="0.42" cy="0.33" r="0.72" fx="0.42" fy="0.33"><stop offset="0" stop-color="#e8f4f4"/><stop offset="0.14" stop-color="#c8d2d4"/><stop offset="0.42" stop-color="#bcbcbc"/><stop offset="0.75" stop-color="#9e9e9e"/><stop offset="1" stop-color="#7d7d7d"/></radialGradient>
<radialGradient id="bg16" cx="0.42" cy="0.33" r="0.72" fx="0.42" fy="0.33"><stop offset="0" stop-color="#eff7e1"/><stop offset="0.14" stop-color="#e7db88"/><stop offset="0.42" stop-color="#edcb44"/><stop offset="0.75" stop-color="#cbac30"/><stop offset="1" stop-color="#a08826"/></radialGradient>
</defs>
<circle cx="1401.5" cy="174.9" r="57" fill="url(#bg0)" opacity="0.88"/>
<circle cx="1371" cy="328" r="38" fill="url(#bg1)" opacity="0.88"/>
<circle cx="1337" cy="353" r="39" fill="url(#bg2)" opacity="0.88"/>
<circle cx="1305" cy="406" r="31" fill="url(#bg3)" opacity="0.88"/>
<circle cx="1273.9" cy="447.6" r="24" fill="url(#bg4)" opacity="0.88"/>
<circle cx="1241.5" cy="459.4" r="20" fill="url(#bg5)" opacity="0.88"/>
<circle cx="1210.4" cy="466.8" r="18.8" fill="url(#bg6)" opacity="0.88"/>
<circle cx="1177.9" cy="466.5" r="18.9" fill="url(#bg7)" opacity="0.88"/>
<circle cx="1144.7" cy="472.3" r="17.7" fill="url(#bg8)" opacity="0.88"/>
<circle cx="1113.5" cy="477.5" r="16.7" fill="url(#bg9)" opacity="0.88"/>
<circle cx="1080.6" cy="485.6" r="13.7" fill="url(#bg10)" opacity="0.88"/>
<circle cx="1049.6" cy="487.5" r="13.8" fill="url(#bg11)" opacity="0.88"/>
<circle cx="1016.7" cy="500.8" r="7" fill="url(#bg12)" opacity="0.88"/>
<circle cx="984.8" cy="500.8" r="7" fill="url(#bg13)" opacity="0.88"/>
<circle cx="952.6" cy="500.8" r="7" fill="url(#bg14)" opacity="0.88"/>
<circle cx="920.7" cy="500.8" r="7" fill="url(#bg15)" opacity="0.88"/>
<circle cx="888.5" cy="500.8" r="7" fill="url(#bg16)" opacity="0.88"/>
<line x1="1401.0" y1="174.8" x2="1408.6" y2="228.7" stroke="#b0b0b0" stroke-width="1.2"/>
<line x1="1174.0" y1="459.0" x2="1179.0" y2="481.0" stroke="#c8c8c8" stroke-width="1.2"/>
<text x="1407.5" y="248.0" font-size="16.3" font-weight="normal" text-anchor="middle" fill="#505050" textLength="68.7" lengthAdjust="spacingAndGlyphs" >PC or PE</text>
<text x="1417.0" y="349.0" font-size="16.3" font-weight="normal" text-anchor="middle" fill="#505050" textLength="22" lengthAdjust="spacingAndGlyphs" >PC</text>
<text x="1370.5" y="394.5" font-size="16.3" font-weight="normal" text-anchor="middle" fill="#505050" textLength="21" lengthAdjust="spacingAndGlyphs" >PE</text>
<text x="1345.8" y="436.0" font-size="16.3" font-weight="normal" text-anchor="middle" fill="#505050" textLength="30.8" lengthAdjust="spacingAndGlyphs" >FFA</text>
<text x="1299.3" y="473.5" font-size="16.3" font-weight="normal" text-anchor="middle" fill="#505050" textLength="23.2" lengthAdjust="spacingAndGlyphs" >CE</text>
<text x="1259.4" y="489.7" font-size="16.3" font-weight="normal" text-anchor="middle" fill="#505050" textLength="31.2" lengthAdjust="spacingAndGlyphs" >pPE</text>
<text x="1223.5" y="498.8" font-size="16.3" font-weight="normal" text-anchor="middle" fill="#505050" textLength="31.3" lengthAdjust="spacingAndGlyphs" >LPE</text>
<text x="1181.2" y="500.8" font-size="16.3" font-weight="normal" text-anchor="middle" fill="#505050" textLength="32.4" lengthAdjust="spacingAndGlyphs" >LPC</text>
<text x="1148.8" y="502.8" font-size="16.3" font-weight="normal" text-anchor="middle" fill="#505050" textLength="21.2" lengthAdjust="spacingAndGlyphs" >PA</text>
<text x="1114.0" y="503.8" font-size="16.3" font-weight="normal" text-anchor="middle" fill="#505050" textLength="32.3" lengthAdjust="spacingAndGlyphs" >pPC</text>
<text x="1075.9" y="515.0" font-size="16.3" font-weight="normal" text-anchor="middle" fill="#505050" textLength="22.2" lengthAdjust="spacingAndGlyphs" >PG</text>
<text x="1044.4" y="514.5" font-size="16.3" font-weight="normal" text-anchor="middle" fill="#505050" textLength="20.6" lengthAdjust="spacingAndGlyphs" >CL</text>
<text x="1015.6" y="525.0" font-size="16.3" font-weight="normal" text-anchor="middle" fill="#505050" textLength="24.5" lengthAdjust="spacingAndGlyphs" >SM</text>
<text x="980.7" y="488.5" font-size="16.3" font-weight="normal" text-anchor="middle" fill="#505050" textLength="15.1" lengthAdjust="spacingAndGlyphs" >PI</text>
<text x="949.8" y="524.0" font-size="16.3" font-weight="normal" text-anchor="middle" fill="#505050" textLength="35" lengthAdjust="spacingAndGlyphs" >DAG</text>
<text x="918.3" y="490.0" font-size="16.3" font-weight="normal" text-anchor="middle" fill="#505050" textLength="35" lengthAdjust="spacingAndGlyphs" >MAG</text>
<text x="882.5" y="521.5" font-size="16.3" font-weight="normal" text-anchor="middle" fill="#505050" textLength="38.5" lengthAdjust="spacingAndGlyphs" >CerP</text>
<text x="1086.7" y="163.3" font-size="22.5" font-weight="normal" fill="#000" textLength="235.7" lengthAdjust="spacingAndGlyphs">N<tspan font-size="14.5" dy="5.5">p&lt;0.05</tspan><tspan dy="-5.5">/N</tspan><tspan font-size="14.5" dy="5.5">PC or PE</tspan><tspan dy="-5.5"> = 18/78</tspan></text>
<text x="1129.8" y="290.7" font-size="22.5" font-weight="normal" fill="#000" textLength="196.7" lengthAdjust="spacingAndGlyphs">N<tspan font-size="14.5" dy="5.5">p&lt;0.05</tspan><tspan dy="-5.5">/N</tspan><tspan font-size="14.5" dy="5.5">PC</tspan><tspan dy="-5.5"> = 11/50</tspan></text>
<text x="1093.5" y="348" font-size="22.5" font-weight="normal" fill="#000" textLength="183.1" lengthAdjust="spacingAndGlyphs">N<tspan font-size="14.5" dy="5.5">p&lt;0.05</tspan><tspan dy="-5.5">/N</tspan><tspan font-size="14.5" dy="5.5">PE</tspan><tspan dy="-5.5"> = 7/28</tspan></text>
<text x="24.4" y="612.2" font-size="27" font-weight="bold" text-anchor="start" fill="#000" >C)</text>
<rect x="12.8" y="626.8" width="335.4" height="427.4" fill="none" stroke="#000" stroke-width="1.6"/>
<rect x="146.3" y="994.1" width="74.0" height="13.9" fill="#d9d9d9" stroke="#000" stroke-width="1.6"/>
<rect x="254.6" y="748.4" width="75.5" height="259.6" fill="#000" stroke="#000" stroke-width="1.6"/>
<line x1="183.1" y1="969.2" x2="183.1" y2="994.1" stroke="#666" stroke-width="1.4"/>
<line x1="177.6" y1="969.2" x2="188.6" y2="969.2" stroke="#666" stroke-width="1.4"/>
<line x1="294.0" y1="695.1" x2="294.0" y2="748.4" stroke="#666" stroke-width="1.4"/>
<line x1="288.5" y1="695.1" x2="299.5" y2="695.1" stroke="#666" stroke-width="1.4"/>
<line x1="127.6" y1="641.0" x2="127.6" y2="1008.8" stroke="#000" stroke-width="1.6"/>
<line x1="122.0" y1="1008.0" x2="348.0" y2="1008.0" stroke="#000" stroke-width="1.8"/>
<line x1="122.0" y1="641.0" x2="127.6" y2="641.0" stroke="#000" stroke-width="1.4"/>
<text x="109.6" y="648.8" font-size="21.8" font-weight="bold" text-anchor="end" fill="#000" textLength="41.8" lengthAdjust="spacingAndGlyphs" >0.14</text>
<line x1="122.0" y1="732.8" x2="127.6" y2="732.8" stroke="#000" stroke-width="1.4"/>
<text x="109.6" y="740.5" font-size="21.8" font-weight="bold" text-anchor="end" fill="#000" textLength="30" lengthAdjust="spacingAndGlyphs" >0.1</text>
<line x1="122.0" y1="824.5" x2="127.6" y2="824.5" stroke="#000" stroke-width="1.4"/>
<text x="109.6" y="832.3" font-size="21.8" font-weight="bold" text-anchor="end" fill="#000" textLength="41.8" lengthAdjust="spacingAndGlyphs" >0.06</text>
<line x1="122.0" y1="916.2" x2="127.6" y2="916.2" stroke="#000" stroke-width="1.4"/>
<text x="109.6" y="924.0" font-size="21.8" font-weight="bold" text-anchor="end" fill="#000" textLength="41.8" lengthAdjust="spacingAndGlyphs" >0.02</text>
<text x="109.6" y="1015.8" font-size="21.8" font-weight="bold" text-anchor="end" fill="#000" textLength="49.2" lengthAdjust="spacingAndGlyphs" >-0.02</text>
<text x="204.1" y="696.5" font-size="21.3" font-weight="bold" text-anchor="middle" fill="#000" textLength="87.0" lengthAdjust="spacingAndGlyphs" >PC class</text>
<text x="204.1" y="720.2" font-size="21.3" font-weight="bold" text-anchor="middle" fill="#000" textLength="75.60000000000001" lengthAdjust="spacingAndGlyphs" >p=0.001</text>
<text x="183.4" y="1041.0" font-size="22" font-weight="bold" text-anchor="middle" fill="#000" textLength="101.6" lengthAdjust="spacingAndGlyphs" >No Stroke</text>
<text x="292.8" y="1041.0" font-size="22" font-weight="bold" text-anchor="middle" fill="#000" textLength="66.6" lengthAdjust="spacingAndGlyphs" >Stroke</text>
<text x="50.0" y="825.4" font-size="23.3" font-weight="bold" text-anchor="middle" fill="#000" textLength="222" lengthAdjust="spacingAndGlyphs" transform="rotate(-90 50 825.4)">Relative Abundance</text>
<text x="382.0" y="612.2" font-size="27" font-weight="bold" text-anchor="start" fill="#000" >D)</text>
<rect x="383.8" y="626.8" width="333.0" height="427.1" fill="none" stroke="#000" stroke-width="1.6"/>
<rect x="475.4" y="984.9" width="88.9" height="25.4" fill="#d9d9d9" stroke="#000" stroke-width="1.6"/>
<rect x="607.5" y="837.1" width="89.4" height="173.2" fill="#000" stroke="#000" stroke-width="1.6"/>
<line x1="520.0" y1="963.7" x2="520.0" y2="984.9" stroke="#666" stroke-width="1.4"/>
<line x1="514.5" y1="963.7" x2="525.5" y2="963.7" stroke="#666" stroke-width="1.4"/>
<line x1="652.3" y1="797.3" x2="652.3" y2="837.1" stroke="#666" stroke-width="1.4"/>
<line x1="646.8" y1="797.3" x2="657.8" y2="797.3" stroke="#666" stroke-width="1.4"/>
<line x1="452.7" y1="642.3" x2="452.7" y2="1011.1" stroke="#000" stroke-width="1.6"/>
<line x1="447.7" y1="1010.3" x2="716.6" y2="1010.3" stroke="#000" stroke-width="1.8"/>
<line x1="447.7" y1="642.3" x2="452.7" y2="642.3" stroke="#000" stroke-width="1.4"/>
<text x="435.3" y="650.1" font-size="21.8" font-weight="bold" text-anchor="end" fill="#000" textLength="41.8" lengthAdjust="spacingAndGlyphs" >0.14</text>
<line x1="447.7" y1="734.3" x2="452.7" y2="734.3" stroke="#000" stroke-width="1.4"/>
<text x="435.3" y="742.1" font-size="21.8" font-weight="bold" text-anchor="end" fill="#000" textLength="30" lengthAdjust="spacingAndGlyphs" >0.1</text>
<line x1="447.7" y1="826.3" x2="452.7" y2="826.3" stroke="#000" stroke-width="1.4"/>
<text x="435.3" y="834.1" font-size="21.8" font-weight="bold" text-anchor="end" fill="#000" textLength="41.8" lengthAdjust="spacingAndGlyphs" >0.06</text>
<line x1="447.7" y1="918.3" x2="452.7" y2="918.3" stroke="#000" stroke-width="1.4"/>
<text x="435.3" y="926.1" font-size="21.8" font-weight="bold" text-anchor="end" fill="#000" textLength="41.8" lengthAdjust="spacingAndGlyphs" >0.02</text>
<text x="435.3" y="1018.1" font-size="21.8" font-weight="bold" text-anchor="end" fill="#000" textLength="49.2" lengthAdjust="spacingAndGlyphs" >-0.02</text>
<text x="560.0" y="690.5" font-size="21.3" font-weight="bold" text-anchor="middle" fill="#000" textLength="85.7" lengthAdjust="spacingAndGlyphs" >PE class</text>
<text x="560.0" y="714.2" font-size="21.3" font-weight="bold" text-anchor="middle" fill="#000" textLength="78.2" lengthAdjust="spacingAndGlyphs" >p=0.002</text>
<text x="520.0" y="1043.6" font-size="22" font-weight="bold" text-anchor="middle" fill="#000" textLength="101.6" lengthAdjust="spacingAndGlyphs" >No Stroke</text>
<text x="651.5" y="1043.6" font-size="22" font-weight="bold" text-anchor="middle" fill="#000" textLength="66.6" lengthAdjust="spacingAndGlyphs" >Stroke</text>
<text x="771.2" y="612.2" font-size="27" font-weight="bold" text-anchor="start" fill="#000" >E)</text>
<rect x="764.5" y="630.1" width="335.5" height="427.0" fill="none" stroke="#000" stroke-width="1.6"/>
<rect x="856.6" y="983.6" width="88.5" height="28.7" fill="#d9d9d9" stroke="#000" stroke-width="1.6"/>
<rect x="988.4" y="852.8" width="89.2" height="159.5" fill="#000" stroke="#000" stroke-width="1.6"/>
<line x1="900.7" y1="966.7" x2="900.7" y2="983.6" stroke="#666" stroke-width="1.4"/>
<line x1="895.2" y1="966.7" x2="906.2" y2="966.7" stroke="#666" stroke-width="1.4"/>
<line x1="1032.8" y1="814.2" x2="1032.8" y2="852.8" stroke="#666" stroke-width="1.4"/>
<line x1="1027.3" y1="814.2" x2="1038.3" y2="814.2" stroke="#666" stroke-width="1.4"/>
<line x1="835.5" y1="642.3" x2="835.5" y2="1013.1" stroke="#000" stroke-width="1.6"/>
<line x1="828.5" y1="1012.3" x2="1099.8" y2="1012.3" stroke="#000" stroke-width="1.8"/>
<line x1="828.5" y1="642.3" x2="835.5" y2="642.3" stroke="#000" stroke-width="1.4"/>
<text x="816.8" y="650.1" font-size="21.8" font-weight="bold" text-anchor="end" fill="#000" textLength="41.8" lengthAdjust="spacingAndGlyphs" >0.14</text>
<line x1="828.5" y1="734.8" x2="835.5" y2="734.8" stroke="#000" stroke-width="1.4"/>
<text x="816.8" y="742.6" font-size="21.8" font-weight="bold" text-anchor="end" fill="#000" textLength="30" lengthAdjust="spacingAndGlyphs" >0.1</text>
<line x1="828.5" y1="827.3" x2="835.5" y2="827.3" stroke="#000" stroke-width="1.4"/>
<text x="816.8" y="835.1" font-size="21.8" font-weight="bold" text-anchor="end" fill="#000" textLength="41.8" lengthAdjust="spacingAndGlyphs" >0.06</text>
<line x1="828.5" y1="919.8" x2="835.5" y2="919.8" stroke="#000" stroke-width="1.4"/>
<text x="816.8" y="927.6" font-size="21.8" font-weight="bold" text-anchor="end" fill="#000" textLength="41.8" lengthAdjust="spacingAndGlyphs" >0.02</text>
<text x="816.8" y="1020.1" font-size="21.8" font-weight="bold" text-anchor="end" fill="#000" textLength="49.2" lengthAdjust="spacingAndGlyphs" >-0.02</text>
<text x="950.0" y="690.5" font-size="21.3" font-weight="bold" text-anchor="middle" fill="#000" textLength="100.7" lengthAdjust="spacingAndGlyphs" >pPC class</text>
<text x="950.0" y="714.2" font-size="21.3" font-weight="bold" text-anchor="middle" fill="#000" textLength="77.7" lengthAdjust="spacingAndGlyphs" >p=0.004</text>
<text x="901.5" y="1046.1" font-size="22" font-weight="bold" text-anchor="middle" fill="#000" textLength="101.6" lengthAdjust="spacingAndGlyphs" >No Stroke</text>
<text x="1033.2" y="1046.1" font-size="22" font-weight="bold" text-anchor="middle" fill="#000" textLength="66.6" lengthAdjust="spacingAndGlyphs" >Stroke</text>
<text x="1136.9" y="612.2" font-size="27" font-weight="bold" text-anchor="start" fill="#000" >F)</text>
<rect x="1128.8" y="628.6" width="333.0" height="425.3" fill="none" stroke="#000" stroke-width="1.6"/>
<rect x="1220.4" y="979.2" width="88.9" height="35.6" fill="#d9d9d9" stroke="#000" stroke-width="1.6"/>
<rect x="1353.0" y="893.9" width="88.4" height="120.9" fill="#d9d9d9" stroke="#000" stroke-width="1.6"/>
<line x1="1265.0" y1="950.7" x2="1265.0" y2="979.2" stroke="#666" stroke-width="1.4"/>
<line x1="1259.5" y1="950.7" x2="1270.5" y2="950.7" stroke="#666" stroke-width="1.4"/>
<line x1="1397.3" y1="849.6" x2="1397.3" y2="893.9" stroke="#666" stroke-width="1.4"/>
<line x1="1391.8" y1="849.6" x2="1402.8" y2="849.6" stroke="#666" stroke-width="1.4"/>
<line x1="1199.2" y1="639.8" x2="1199.2" y2="1015.6" stroke="#000" stroke-width="1.6"/>
<line x1="1192.7" y1="1014.8" x2="1461.6" y2="1014.8" stroke="#000" stroke-width="1.8"/>
<line x1="1192.7" y1="639.8" x2="1199.2" y2="639.8" stroke="#000" stroke-width="1.4"/>
<text x="1180.3" y="647.6" font-size="21.8" font-weight="bold" text-anchor="end" fill="#000" textLength="41.8" lengthAdjust="spacingAndGlyphs" >0.14</text>
<line x1="1192.7" y1="733.5" x2="1199.2" y2="733.5" stroke="#000" stroke-width="1.4"/>
<text x="1180.3" y="741.3" font-size="21.8" font-weight="bold" text-anchor="end" fill="#000" textLength="30" lengthAdjust="spacingAndGlyphs" >0.1</text>
<line x1="1192.7" y1="827.3" x2="1199.2" y2="827.3" stroke="#000" stroke-width="1.4"/>
<text x="1180.3" y="835.1" font-size="21.8" font-weight="bold" text-anchor="end" fill="#000" textLength="41.8" lengthAdjust="spacingAndGlyphs" >0.06</text>
<line x1="1192.7" y1="921.0" x2="1199.2" y2="921.0" stroke="#000" stroke-width="1.4"/>
<text x="1180.3" y="928.8" font-size="21.8" font-weight="bold" text-anchor="end" fill="#000" textLength="41.8" lengthAdjust="spacingAndGlyphs" >0.02</text>
<text x="1180.3" y="1022.6" font-size="21.8" font-weight="bold" text-anchor="end" fill="#000" textLength="49.2" lengthAdjust="spacingAndGlyphs" >-0.02</text>
<text x="1294.8" y="665.5" font-size="21.3" font-weight="bold" text-anchor="middle" fill="#000" textLength="98.60000000000001" lengthAdjust="spacingAndGlyphs" >pPE class</text>
<text x="1294.8" y="689.2" font-size="21.3" font-weight="bold" text-anchor="middle" fill="#000" textLength="78.5" lengthAdjust="spacingAndGlyphs" >p=0.104</text>
<text x="1265.0" y="1047.6" font-size="22" font-weight="bold" text-anchor="middle" fill="#000" textLength="101.6" lengthAdjust="spacingAndGlyphs" >No Stroke</text>
<text x="1396.6" y="1047.6" font-size="22" font-weight="bold" text-anchor="middle" fill="#000" textLength="66.6" lengthAdjust="spacingAndGlyphs" >Stroke</text>
<text x="24.4" y="1089.7" font-size="27" font-weight="bold" text-anchor="start" fill="#000" >G)</text>
<rect x="12.8" y="1098.2" width="334.7" height="426.4" fill="none" stroke="#000" stroke-width="1.6"/>
<rect x="144.5" y="1459.9" width="74.3" height="24.2" fill="#d9d9d9" stroke="#000" stroke-width="1.6"/>
<rect x="255.4" y="1302.4" width="74.0" height="181.7" fill="#d9d9d9" stroke="#000" stroke-width="1.6"/>
<line x1="181.9" y1="1427.5" x2="181.9" y2="1459.9" stroke="#666" stroke-width="1.4"/>
<line x1="176.4" y1="1427.5" x2="187.4" y2="1427.5" stroke="#666" stroke-width="1.4"/>
<line x1="292.0" y1="1218.7" x2="292.0" y2="1302.4" stroke="#666" stroke-width="1.4"/>
<line x1="286.5" y1="1218.7" x2="297.5" y2="1218.7" stroke="#666" stroke-width="1.4"/>
<line x1="125.8" y1="1110.3" x2="125.8" y2="1484.9" stroke="#000" stroke-width="1.6"/>
<line x1="119.6" y1="1484.1" x2="347.3" y2="1484.1" stroke="#000" stroke-width="1.8"/>
<line x1="119.6" y1="1110.3" x2="125.8" y2="1110.3" stroke="#000" stroke-width="1.4"/>
<text x="107.6" y="1118.1" font-size="21.8" font-weight="bold" text-anchor="end" fill="#000" textLength="41.8" lengthAdjust="spacingAndGlyphs" >0.14</text>
<line x1="119.6" y1="1203.8" x2="125.8" y2="1203.8" stroke="#000" stroke-width="1.4"/>
<text x="107.6" y="1211.5" font-size="21.8" font-weight="bold" text-anchor="end" fill="#000" textLength="30" lengthAdjust="spacingAndGlyphs" >0.1</text>
<line x1="119.6" y1="1297.2" x2="125.8" y2="1297.2" stroke="#000" stroke-width="1.4"/>
<text x="107.6" y="1305.0" font-size="21.8" font-weight="bold" text-anchor="end" fill="#000" textLength="41.8" lengthAdjust="spacingAndGlyphs" >0.06</text>
<line x1="119.6" y1="1390.6" x2="125.8" y2="1390.6" stroke="#000" stroke-width="1.4"/>
<text x="107.6" y="1398.4" font-size="21.8" font-weight="bold" text-anchor="end" fill="#000" textLength="41.8" lengthAdjust="spacingAndGlyphs" >0.02</text>
<text x="107.6" y="1491.9" font-size="21.8" font-weight="bold" text-anchor="end" fill="#000" textLength="49.2" lengthAdjust="spacingAndGlyphs" >-0.02</text>
<text x="200.6" y="1149.5" font-size="21.3" font-weight="bold" text-anchor="middle" fill="#000" textLength="90.4" lengthAdjust="spacingAndGlyphs" >SM class</text>
<text x="200.6" y="1173.2" font-size="21.3" font-weight="bold" text-anchor="middle" fill="#000" textLength="77.7" lengthAdjust="spacingAndGlyphs" >p=0.067</text>
<text x="181.6" y="1518.6" font-size="22" font-weight="bold" text-anchor="middle" fill="#000" textLength="101.6" lengthAdjust="spacingAndGlyphs" >No Stroke</text>
<text x="292.0" y="1518.6" font-size="22" font-weight="bold" text-anchor="middle" fill="#000" textLength="66.6" lengthAdjust="spacingAndGlyphs" >Stroke</text>
<text x="39.4" y="1296.1" font-size="23.3" font-weight="bold" text-anchor="middle" fill="#000" textLength="222" lengthAdjust="spacingAndGlyphs" transform="rotate(-90 39.4 1296.1)">Relative Abundance</text>
<text x="381.2" y="1089.7" font-size="27" font-weight="bold" text-anchor="start" fill="#000" >H)</text>
<rect x="381.3" y="1098.2" width="333.0" height="426.4" fill="none" stroke="#000" stroke-width="1.6"/>
<rect x="514.0" y="1444.2" width="72.8" height="39.9" fill="#d9d9d9" stroke="#000" stroke-width="1.6"/>
<rect x="623.6" y="1400.1" width="74.0" height="84.0" fill="#d9d9d9" stroke="#000" stroke-width="1.6"/>
<line x1="550.6" y1="1416.8" x2="550.6" y2="1444.2" stroke="#666" stroke-width="1.4"/>
<line x1="545.1" y1="1416.8" x2="556.1" y2="1416.8" stroke="#666" stroke-width="1.4"/>
<line x1="660.3" y1="1329.0" x2="660.3" y2="1400.1" stroke="#666" stroke-width="1.4"/>
<line x1="654.8" y1="1329.0" x2="665.8" y2="1329.0" stroke="#666" stroke-width="1.4"/>
<line x1="495.8" y1="1110.3" x2="495.8" y2="1484.9" stroke="#000" stroke-width="1.6"/>
<line x1="490.0" y1="1484.1" x2="714.1" y2="1484.1" stroke="#000" stroke-width="1.8"/>
<line x1="490.0" y1="1110.3" x2="495.8" y2="1110.3" stroke="#000" stroke-width="1.4"/>
<text x="477.6" y="1118.1" font-size="21.8" font-weight="bold" text-anchor="end" fill="#000" textLength="41.8" lengthAdjust="spacingAndGlyphs" >0.14</text>
<line x1="490.0" y1="1203.8" x2="495.8" y2="1203.8" stroke="#000" stroke-width="1.4"/>
<text x="477.6" y="1211.5" font-size="21.8" font-weight="bold" text-anchor="end" fill="#000" textLength="30" lengthAdjust="spacingAndGlyphs" >0.1</text>
<line x1="490.0" y1="1297.2" x2="495.8" y2="1297.2" stroke="#000" stroke-width="1.4"/>
<text x="477.6" y="1305.0" font-size="21.8" font-weight="bold" text-anchor="end" fill="#000" textLength="41.8" lengthAdjust="spacingAndGlyphs" >0.06</text>
<line x1="490.0" y1="1390.6" x2="495.8" y2="1390.6" stroke="#000" stroke-width="1.4"/>
<text x="477.6" y="1398.4" font-size="21.8" font-weight="bold" text-anchor="end" fill="#000" textLength="41.8" lengthAdjust="spacingAndGlyphs" >0.02</text>
<text x="477.6" y="1491.9" font-size="21.8" font-weight="bold" text-anchor="end" fill="#000" textLength="49.2" lengthAdjust="spacingAndGlyphs" >-0.02</text>
<text x="592.1" y="1149.5" font-size="21.3" font-weight="bold" text-anchor="middle" fill="#000" textLength="103.60000000000001" lengthAdjust="spacingAndGlyphs" >TAG class</text>
<text x="592.1" y="1173.2" font-size="21.3" font-weight="bold" text-anchor="middle" fill="#000" textLength="77.9" lengthAdjust="spacingAndGlyphs" >p=0.555</text>
<text x="551.4" y="1518.6" font-size="22" font-weight="bold" text-anchor="middle" fill="#000" textLength="101.6" lengthAdjust="spacingAndGlyphs" >No Stroke</text>
<text x="660.3" y="1518.6" font-size="22" font-weight="bold" text-anchor="middle" fill="#000" textLength="66.6" lengthAdjust="spacingAndGlyphs" >Stroke</text>
<text x="417.6" y="1296.7" font-size="23.3" font-weight="bold" text-anchor="middle" fill="#000" textLength="222" lengthAdjust="spacingAndGlyphs" transform="rotate(-90 417.6 1296.7)">Relative Abundance</text>
<text x="771.2" y="1089.7" font-size="27" font-weight="bold" text-anchor="start" fill="#000" >I)</text>
<rect x="765.3" y="1098.2" width="332.2" height="426.4" fill="none" stroke="#000" stroke-width="1.6"/>
<rect x="856.6" y="1447.4" width="88.5" height="36.6" fill="#d9d9d9" stroke="#000" stroke-width="1.6"/>
<rect x="988.7" y="1380.2" width="88.4" height="103.8" fill="#d9d9d9" stroke="#000" stroke-width="1.6"/>
<line x1="900.7" y1="1426.2" x2="900.7" y2="1447.4" stroke="#666" stroke-width="1.4"/>
<line x1="895.2" y1="1426.2" x2="906.2" y2="1426.2" stroke="#666" stroke-width="1.4"/>
<line x1="1032.8" y1="1324.8" x2="1032.8" y2="1380.2" stroke="#666" stroke-width="1.4"/>
<line x1="1027.3" y1="1324.8" x2="1038.3" y2="1324.8" stroke="#666" stroke-width="1.4"/>
<line x1="835.5" y1="1110.3" x2="835.5" y2="1484.8" stroke="#000" stroke-width="1.6"/>
<line x1="828.5" y1="1484.0" x2="1097.3" y2="1484.0" stroke="#000" stroke-width="1.8"/>
<line x1="828.5" y1="1110.3" x2="835.5" y2="1110.3" stroke="#000" stroke-width="1.4"/>
<text x="816.8" y="1118.1" font-size="21.8" font-weight="bold" text-anchor="end" fill="#000" textLength="41.8" lengthAdjust="spacingAndGlyphs" >0.14</text>
<line x1="828.5" y1="1203.7" x2="835.5" y2="1203.7" stroke="#000" stroke-width="1.4"/>
<text x="816.8" y="1211.5" font-size="21.8" font-weight="bold" text-anchor="end" fill="#000" textLength="30" lengthAdjust="spacingAndGlyphs" >0.1</text>
<line x1="828.5" y1="1297.2" x2="835.5" y2="1297.2" stroke="#000" stroke-width="1.4"/>
<text x="816.8" y="1305.0" font-size="21.8" font-weight="bold" text-anchor="end" fill="#000" textLength="41.8" lengthAdjust="spacingAndGlyphs" >0.06</text>
<line x1="828.5" y1="1390.6" x2="835.5" y2="1390.6" stroke="#000" stroke-width="1.4"/>
<text x="816.8" y="1398.4" font-size="21.8" font-weight="bold" text-anchor="end" fill="#000" textLength="41.8" lengthAdjust="spacingAndGlyphs" >0.02</text>
<text x="816.8" y="1491.8" font-size="21.8" font-weight="bold" text-anchor="end" fill="#000" textLength="49.2" lengthAdjust="spacingAndGlyphs" >-0.02</text>
<text x="951.2" y="1146.7" font-size="21.3" font-weight="bold" text-anchor="middle" fill="#000" textLength="104.2" lengthAdjust="spacingAndGlyphs" >DAG class</text>
<text x="951.2" y="1170.4" font-size="21.3" font-weight="bold" text-anchor="middle" fill="#000" textLength="77.5" lengthAdjust="spacingAndGlyphs" >p=0.239</text>
<text x="901.5" y="1518.6" font-size="22" font-weight="bold" text-anchor="middle" fill="#000" textLength="101.6" lengthAdjust="spacingAndGlyphs" >No Stroke</text>
<text x="1033.2" y="1518.6" font-size="22" font-weight="bold" text-anchor="middle" fill="#000" textLength="66.6" lengthAdjust="spacingAndGlyphs" >Stroke</text>
<text x="1136.2" y="1089.7" font-size="27" font-weight="bold" text-anchor="start" fill="#000" >J)</text>
<rect x="1130.3" y="1098.2" width="334.7" height="426.4" fill="none" stroke="#000" stroke-width="1.6"/>
<rect x="1222.6" y="1444.2" width="88.0" height="39.8" fill="#d9d9d9" stroke="#000" stroke-width="1.6"/>
<rect x="1354.2" y="1395.9" width="88.4" height="88.1" fill="#d9d9d9" stroke="#000" stroke-width="1.6"/>
<line x1="1265.7" y1="1420.5" x2="1265.7" y2="1444.2" stroke="#666" stroke-width="1.4"/>
<line x1="1260.2" y1="1420.5" x2="1271.2" y2="1420.5" stroke="#666" stroke-width="1.4"/>
<line x1="1398.5" y1="1343.5" x2="1398.5" y2="1395.9" stroke="#666" stroke-width="1.4"/>
<line x1="1393.0" y1="1343.5" x2="1404.0" y2="1343.5" stroke="#666" stroke-width="1.4"/>
<line x1="1201.0" y1="1110.3" x2="1201.0" y2="1484.8" stroke="#000" stroke-width="1.6"/>
<line x1="1194.0" y1="1484.0" x2="1464.8" y2="1484.0" stroke="#000" stroke-width="1.8"/>
<line x1="1194.0" y1="1110.3" x2="1201.0" y2="1110.3" stroke="#000" stroke-width="1.4"/>
<text x="1181.8" y="1118.1" font-size="21.8" font-weight="bold" text-anchor="end" fill="#000" textLength="41.8" lengthAdjust="spacingAndGlyphs" >0.14</text>
<line x1="1194.0" y1="1203.7" x2="1201.0" y2="1203.7" stroke="#000" stroke-width="1.4"/>
<text x="1181.8" y="1211.5" font-size="21.8" font-weight="bold" text-anchor="end" fill="#000" textLength="30" lengthAdjust="spacingAndGlyphs" >0.1</text>
<line x1="1194.0" y1="1297.2" x2="1201.0" y2="1297.2" stroke="#000" stroke-width="1.4"/>
<text x="1181.8" y="1305.0" font-size="21.8" font-weight="bold" text-anchor="end" fill="#000" textLength="41.8" lengthAdjust="spacingAndGlyphs" >0.06</text>
<line x1="1194.0" y1="1390.6" x2="1201.0" y2="1390.6" stroke="#000" stroke-width="1.4"/>
<text x="1181.8" y="1398.4" font-size="21.8" font-weight="bold" text-anchor="end" fill="#000" textLength="41.8" lengthAdjust="spacingAndGlyphs" >0.02</text>
<text x="1181.8" y="1491.8" font-size="21.8" font-weight="bold" text-anchor="end" fill="#000" textLength="49.2" lengthAdjust="spacingAndGlyphs" >-0.02</text>
<text x="1324.9" y="1146.7" font-size="21.3" font-weight="bold" text-anchor="middle" fill="#000" textLength="88.2" lengthAdjust="spacingAndGlyphs" >CE class</text>
<text x="1324.9" y="1170.4" font-size="21.3" font-weight="bold" text-anchor="middle" fill="#000" textLength="77.7" lengthAdjust="spacingAndGlyphs" >p=0.444</text>
<text x="1267.0" y="1518.6" font-size="22" font-weight="bold" text-anchor="middle" fill="#000" textLength="101.6" lengthAdjust="spacingAndGlyphs" >No Stroke</text>
<text x="1398.6" y="1518.6" font-size="22" font-weight="bold" text-anchor="middle" fill="#000" textLength="66.6" lengthAdjust="spacingAndGlyphs" >Stroke</text>
<text x="24.9" y="1568.4" font-size="27" font-weight="bold" text-anchor="start" fill="#000" >K)</text>
<rect x="6.3" y="1577.6" width="337.2" height="426.6" fill="none" stroke="#000" stroke-width="1.6"/>
<rect x="97.7" y="1916.2" width="89.7" height="46.8" fill="#d9d9d9" stroke="#000" stroke-width="1.6"/>
<rect x="231.2" y="1920.7" width="89.7" height="42.3" fill="#d9d9d9" stroke="#000" stroke-width="1.6"/>
<line x1="142.0" y1="1906.2" x2="142.0" y2="1916.2" stroke="#666" stroke-width="1.4"/>
<line x1="136.5" y1="1906.2" x2="147.5" y2="1906.2" stroke="#666" stroke-width="1.4"/>
<line x1="276.6" y1="1897.5" x2="276.6" y2="1920.7" stroke="#666" stroke-width="1.4"/>
<line x1="271.1" y1="1897.5" x2="282.1" y2="1897.5" stroke="#666" stroke-width="1.4"/>
<line x1="74.7" y1="1589.8" x2="74.7" y2="1963.8" stroke="#000" stroke-width="1.6"/>
<line x1="69.3" y1="1963.0" x2="343.3" y2="1963.0" stroke="#000" stroke-width="1.8"/>
<line x1="69.3" y1="1589.8" x2="74.7" y2="1589.8" stroke="#000" stroke-width="1.4"/>
<text x="56.8" y="1597.6" font-size="21.8" font-weight="bold" text-anchor="end" fill="#000" textLength="41.8" lengthAdjust="spacingAndGlyphs" >0.14</text>
<line x1="69.3" y1="1683.1" x2="74.7" y2="1683.1" stroke="#000" stroke-width="1.4"/>
<text x="56.8" y="1690.9" font-size="21.8" font-weight="bold" text-anchor="end" fill="#000" textLength="30" lengthAdjust="spacingAndGlyphs" >0.1</text>
<line x1="69.3" y1="1776.4" x2="74.7" y2="1776.4" stroke="#000" stroke-width="1.4"/>
<text x="56.8" y="1784.2" font-size="21.8" font-weight="bold" text-anchor="end" fill="#000" textLength="41.8" lengthAdjust="spacingAndGlyphs" >0.06</text>
<line x1="69.3" y1="1869.7" x2="74.7" y2="1869.7" stroke="#000" stroke-width="1.4"/>
<text x="56.8" y="1877.5" font-size="21.8" font-weight="bold" text-anchor="end" fill="#000" textLength="41.8" lengthAdjust="spacingAndGlyphs" >0.02</text>
<text x="56.8" y="1970.8" font-size="21.8" font-weight="bold" text-anchor="end" fill="#000" textLength="49.2" lengthAdjust="spacingAndGlyphs" >-0.02</text>
<text x="230.7" y="1630.5" font-size="21.3" font-weight="bold" text-anchor="middle" fill="#000" textLength="98.8" lengthAdjust="spacingAndGlyphs" >FFA class</text>
<text x="230.7" y="1654.2" font-size="21.3" font-weight="bold" text-anchor="middle" fill="#000" textLength="77.5" lengthAdjust="spacingAndGlyphs" >p=0.883</text>
<text x="142.5" y="1997.6" font-size="22" font-weight="bold" text-anchor="middle" fill="#000" textLength="101.6" lengthAdjust="spacingAndGlyphs" >No Stroke</text>
<text x="276.3" y="1997.6" font-size="22" font-weight="bold" text-anchor="middle" fill="#000" textLength="66.6" lengthAdjust="spacingAndGlyphs" >Stroke</text>
<text x="382.0" y="1568.4" font-size="27" font-weight="bold" text-anchor="start" fill="#000" >L)</text>
<rect x="383.8" y="1575.6" width="333.0" height="427.6" fill="none" stroke="#000" stroke-width="1.6"/>
<rect x="475.4" y="1913.7" width="88.9" height="48.6" fill="#d9d9d9" stroke="#000" stroke-width="1.6"/>
<rect x="608.0" y="1931.1" width="88.4" height="31.2" fill="#d9d9d9" stroke="#000" stroke-width="1.6"/>
<line x1="520.0" y1="1899.5" x2="520.0" y2="1913.7" stroke="#666" stroke-width="1.4"/>
<line x1="514.5" y1="1899.5" x2="525.5" y2="1899.5" stroke="#666" stroke-width="1.4"/>
<line x1="652.3" y1="1905.5" x2="652.3" y2="1931.1" stroke="#666" stroke-width="1.4"/>
<line x1="646.8" y1="1905.5" x2="657.8" y2="1905.5" stroke="#666" stroke-width="1.4"/>
<line x1="452.7" y1="1588.5" x2="452.7" y2="1963.1" stroke="#000" stroke-width="1.6"/>
<line x1="447.7" y1="1962.3" x2="716.6" y2="1962.3" stroke="#000" stroke-width="1.8"/>
<line x1="447.7" y1="1588.5" x2="452.7" y2="1588.5" stroke="#000" stroke-width="1.4"/>
<text x="435.3" y="1596.3" font-size="21.8" font-weight="bold" text-anchor="end" fill="#000" textLength="41.8" lengthAdjust="spacingAndGlyphs" >0.14</text>
<line x1="447.7" y1="1682.0" x2="452.7" y2="1682.0" stroke="#000" stroke-width="1.4"/>
<text x="435.3" y="1689.8" font-size="21.8" font-weight="bold" text-anchor="end" fill="#000" textLength="30" lengthAdjust="spacingAndGlyphs" >0.1</text>
<line x1="447.7" y1="1775.4" x2="452.7" y2="1775.4" stroke="#000" stroke-width="1.4"/>
<text x="435.3" y="1783.2" font-size="21.8" font-weight="bold" text-anchor="end" fill="#000" textLength="41.8" lengthAdjust="spacingAndGlyphs" >0.06</text>
<line x1="447.7" y1="1868.8" x2="452.7" y2="1868.8" stroke="#000" stroke-width="1.4"/>
<text x="435.3" y="1876.6" font-size="21.8" font-weight="bold" text-anchor="end" fill="#000" textLength="41.8" lengthAdjust="spacingAndGlyphs" >0.02</text>
<text x="435.3" y="1970.1" font-size="21.8" font-weight="bold" text-anchor="end" fill="#000" textLength="49.2" lengthAdjust="spacingAndGlyphs" >-0.02</text>
<text x="584.0" y="1624.2" font-size="21.3" font-weight="bold" text-anchor="middle" fill="#000" textLength="77.4" lengthAdjust="spacingAndGlyphs" >PI class</text>
<text x="584.0" y="1647.9" font-size="21.3" font-weight="bold" text-anchor="middle" fill="#000" textLength="77.4" lengthAdjust="spacingAndGlyphs" >p=0.596</text>
<text x="520.0" y="1996.6" font-size="22" font-weight="bold" text-anchor="middle" fill="#000" textLength="101.6" lengthAdjust="spacingAndGlyphs" >No Stroke</text>
<text x="651.5" y="1996.6" font-size="22" font-weight="bold" text-anchor="middle" fill="#000" textLength="66.6" lengthAdjust="spacingAndGlyphs" >Stroke</text>
<text x="771.2" y="1567.2" font-size="27" font-weight="bold" text-anchor="start" fill="#000" >M)</text>
<rect x="767.7" y="1574.4" width="334.8" height="424.8" fill="none" stroke="#000" stroke-width="1.6"/>
<rect x="859.6" y="1914.9" width="88.5" height="45.6" fill="#d9d9d9" stroke="#000" stroke-width="1.6"/>
<rect x="991.2" y="1903.7" width="88.9" height="56.8" fill="#d9d9d9" stroke="#000" stroke-width="1.6"/>
<line x1="904.0" y1="1893.8" x2="904.0" y2="1914.9" stroke="#666" stroke-width="1.4"/>
<line x1="898.5" y1="1893.8" x2="909.5" y2="1893.8" stroke="#666" stroke-width="1.4"/>
<line x1="1036.5" y1="1860.1" x2="1036.5" y2="1903.7" stroke="#666" stroke-width="1.4"/>
<line x1="1031.0" y1="1860.1" x2="1042.0" y2="1860.1" stroke="#666" stroke-width="1.4"/>
<line x1="838.0" y1="1585.3" x2="838.0" y2="1961.3" stroke="#000" stroke-width="1.6"/>
<line x1="831.7" y1="1960.5" x2="1102.3" y2="1960.5" stroke="#000" stroke-width="1.8"/>
<line x1="831.7" y1="1585.3" x2="838.0" y2="1585.3" stroke="#000" stroke-width="1.4"/>
<text x="819.3" y="1593.1" font-size="21.8" font-weight="bold" text-anchor="end" fill="#000" textLength="41.8" lengthAdjust="spacingAndGlyphs" >0.14</text>
<line x1="831.7" y1="1679.1" x2="838.0" y2="1679.1" stroke="#000" stroke-width="1.4"/>
<text x="819.3" y="1686.9" font-size="21.8" font-weight="bold" text-anchor="end" fill="#000" textLength="30" lengthAdjust="spacingAndGlyphs" >0.1</text>
<line x1="831.7" y1="1772.9" x2="838.0" y2="1772.9" stroke="#000" stroke-width="1.4"/>
<text x="819.3" y="1780.7" font-size="21.8" font-weight="bold" text-anchor="end" fill="#000" textLength="41.8" lengthAdjust="spacingAndGlyphs" >0.06</text>
<line x1="831.7" y1="1866.7" x2="838.0" y2="1866.7" stroke="#000" stroke-width="1.4"/>
<text x="819.3" y="1874.5" font-size="21.8" font-weight="bold" text-anchor="end" fill="#000" textLength="41.8" lengthAdjust="spacingAndGlyphs" >0.02</text>
<text x="819.3" y="1968.3" font-size="21.8" font-weight="bold" text-anchor="end" fill="#000" textLength="49.2" lengthAdjust="spacingAndGlyphs" >-0.02</text>
<text x="960.0" y="1621.7" font-size="21.3" font-weight="bold" text-anchor="middle" fill="#000" textLength="89.4" lengthAdjust="spacingAndGlyphs" >PG class</text>
<text x="960.0" y="1645.4" font-size="21.3" font-weight="bold" text-anchor="middle" fill="#000" textLength="77.7" lengthAdjust="spacingAndGlyphs" >p=0.845</text>
<text x="905.0" y="1993.6" font-size="22" font-weight="bold" text-anchor="middle" fill="#000" textLength="101.6" lengthAdjust="spacingAndGlyphs" >No Stroke</text>
<text x="1036.3" y="1993.6" font-size="22" font-weight="bold" text-anchor="middle" fill="#000" textLength="66.6" lengthAdjust="spacingAndGlyphs" >Stroke</text>
<text x="1136.9" y="1567.2" font-size="27" font-weight="bold" text-anchor="start" fill="#000" >N)</text>
<rect x="1137.7" y="1577.6" width="332.3" height="425.6" fill="none" stroke="#000" stroke-width="1.6"/>
<rect x="1229.1" y="1912.4" width="88.2" height="50.6" fill="#d9d9d9" stroke="#000" stroke-width="1.6"/>
<rect x="1361.7" y="1946.1" width="88.4" height="16.9" fill="#d9d9d9" stroke="#000" stroke-width="1.6"/>
<line x1="1273.2" y1="1895.0" x2="1273.2" y2="1912.4" stroke="#666" stroke-width="1.4"/>
<line x1="1267.7" y1="1895.0" x2="1278.7" y2="1895.0" stroke="#666" stroke-width="1.4"/>
<line x1="1405.3" y1="1900.7" x2="1405.3" y2="1946.1" stroke="#666" stroke-width="1.4"/>
<line x1="1399.8" y1="1900.7" x2="1410.8" y2="1900.7" stroke="#666" stroke-width="1.4"/>
<line x1="1206.7" y1="1589.8" x2="1206.7" y2="1963.8" stroke="#000" stroke-width="1.6"/>
<line x1="1201.0" y1="1963.0" x2="1469.8" y2="1963.0" stroke="#000" stroke-width="1.8"/>
<line x1="1201.0" y1="1589.8" x2="1206.7" y2="1589.8" stroke="#000" stroke-width="1.4"/>
<text x="1188.5" y="1597.6" font-size="21.8" font-weight="bold" text-anchor="end" fill="#000" textLength="41.8" lengthAdjust="spacingAndGlyphs" >0.14</text>
<line x1="1201.0" y1="1683.1" x2="1206.7" y2="1683.1" stroke="#000" stroke-width="1.4"/>
<text x="1188.5" y="1690.9" font-size="21.8" font-weight="bold" text-anchor="end" fill="#000" textLength="30" lengthAdjust="spacingAndGlyphs" >0.1</text>
<line x1="1201.0" y1="1776.4" x2="1206.7" y2="1776.4" stroke="#000" stroke-width="1.4"/>
<text x="1188.5" y="1784.2" font-size="21.8" font-weight="bold" text-anchor="end" fill="#000" textLength="41.8" lengthAdjust="spacingAndGlyphs" >0.06</text>
<line x1="1201.0" y1="1869.7" x2="1206.7" y2="1869.7" stroke="#000" stroke-width="1.4"/>
<text x="1188.5" y="1877.5" font-size="21.8" font-weight="bold" text-anchor="end" fill="#000" textLength="41.8" lengthAdjust="spacingAndGlyphs" >0.02</text>
<text x="1188.5" y="1970.8" font-size="21.8" font-weight="bold" text-anchor="end" fill="#000" textLength="49.2" lengthAdjust="spacingAndGlyphs" >-0.02</text>
<text x="1338.4" y="1627.9" font-size="21.3" font-weight="bold" text-anchor="middle" fill="#000" textLength="87.7" lengthAdjust="spacingAndGlyphs" >PA class</text>
<text x="1338.4" y="1651.6" font-size="21.3" font-weight="bold" text-anchor="middle" fill="#000" textLength="77.4" lengthAdjust="spacingAndGlyphs" >p=0.456</text>
<text x="1273.2" y="1996.6" font-size="22" font-weight="bold" text-anchor="middle" fill="#000" textLength="101.6" lengthAdjust="spacingAndGlyphs" >No Stroke</text>
<text x="1405.3" y="1996.6" font-size="22" font-weight="bold" text-anchor="middle" fill="#000" textLength="66.6" lengthAdjust="spacingAndGlyphs" >Stroke</text>
</svg></body></html>
